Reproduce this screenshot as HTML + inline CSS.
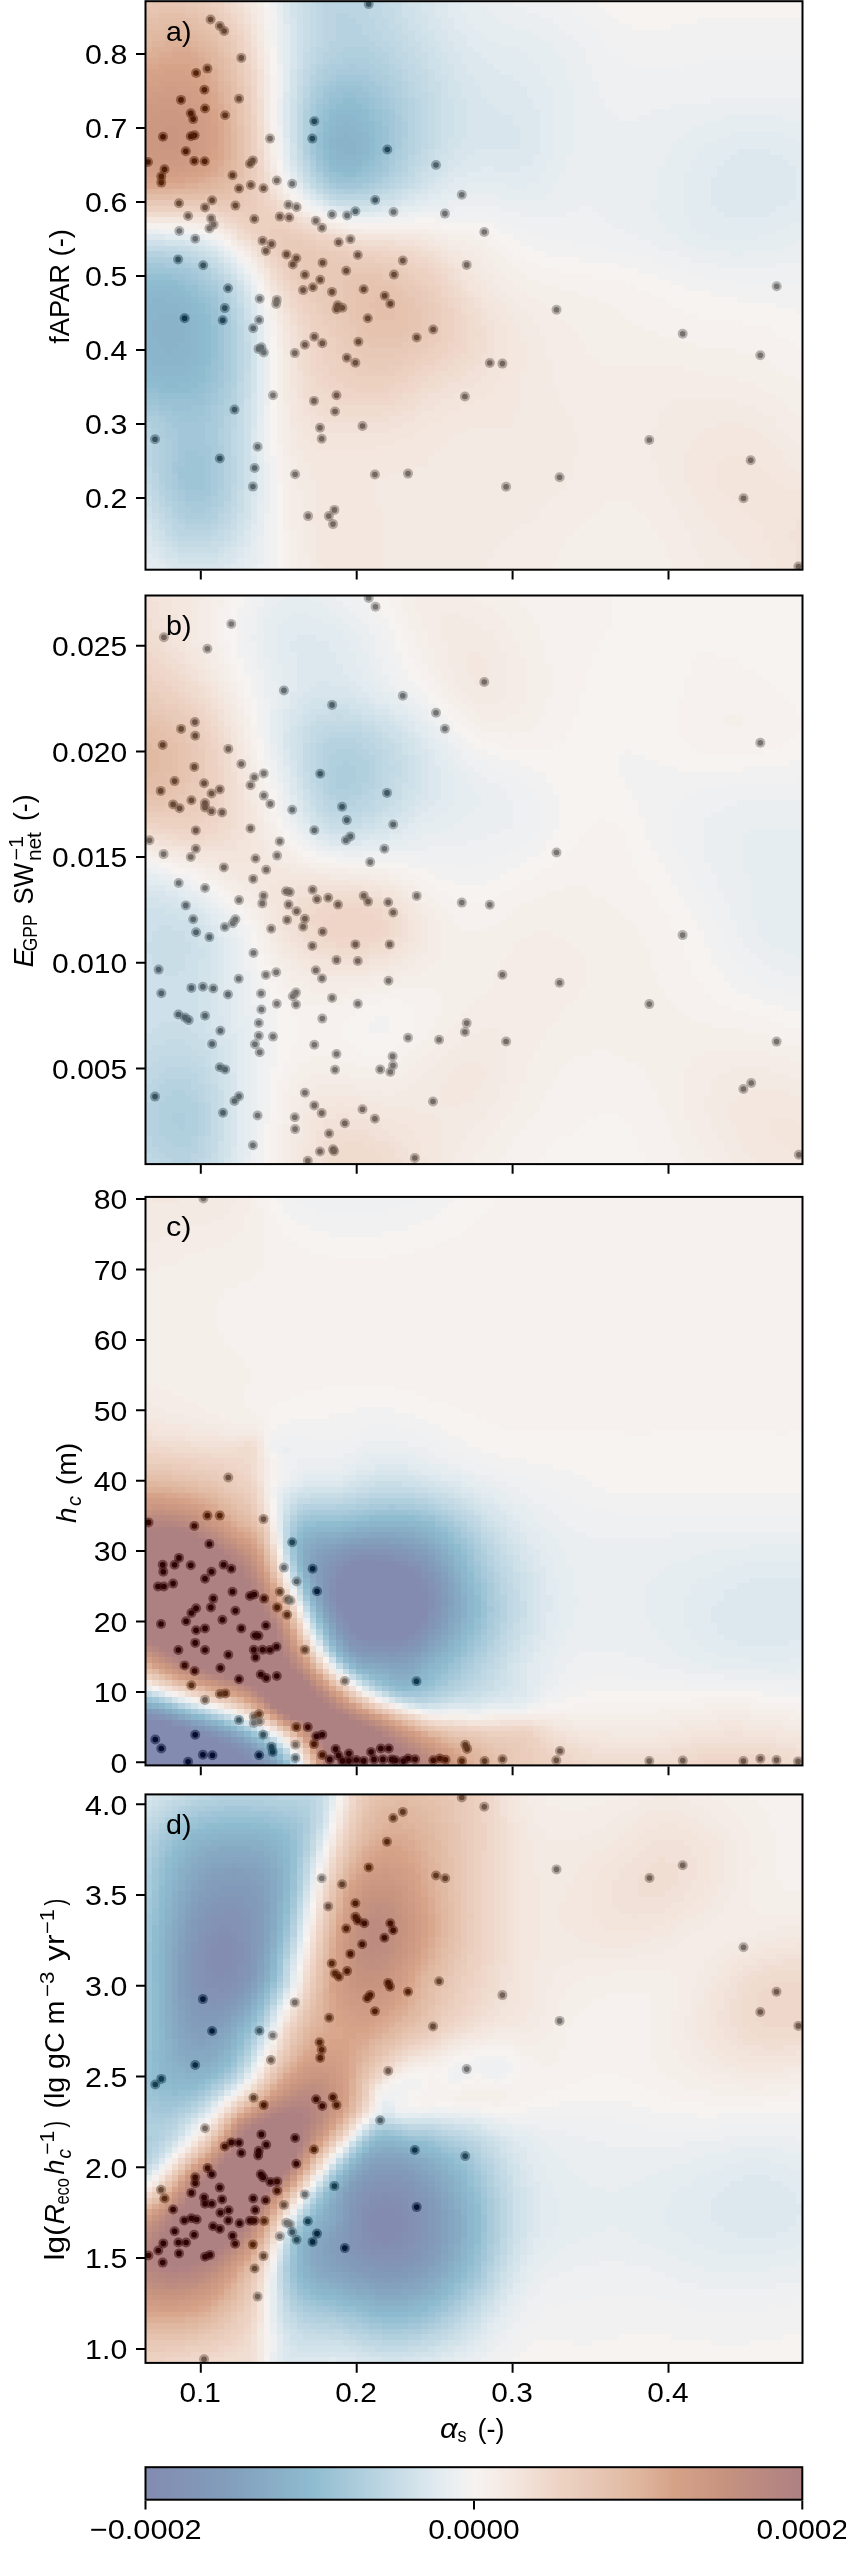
<!DOCTYPE html>
<html><head><meta charset="utf-8">
<style>
html,body{margin:0;padding:0;background:#fff;width:846px;height:2551px;overflow:hidden;position:relative}
canvas{position:absolute;display:block}
svg{position:absolute;left:0;top:0}
text{font-family:"Liberation Sans",sans-serif;font-size:28.3px;fill:#000}
.it{font-style:italic}
</style></head><body>
<canvas id="ca" width="659" height="571" style="left:145px;top:0px"></canvas>
<canvas id="cb" width="659" height="571" style="left:145px;top:595px"></canvas>
<canvas id="cc" width="659" height="571" style="left:145px;top:1196px"></canvas>
<canvas id="cd" width="659" height="571" style="left:145px;top:1794px"></canvas>
<canvas id="cbar" width="657" height="33" style="left:146px;top:2467px"></canvas>
<svg width="846" height="2551" viewBox="0 0 846 2551">
<defs><path id="xt" d="M200.8 0v8.75M356.7 0v8.75M512.6 0v8.75M668.5 0v8.75"/></defs>
<g fill="none" stroke="#000" stroke-width="2" stroke-linecap="butt">
<rect x="145.5" y="1.2" width="657" height="568.5"/>
<rect x="145.5" y="595.5" width="657" height="568.6"/>
<rect x="145.5" y="1196.9" width="657" height="568.5"/>
<rect x="145.5" y="1794.4" width="657" height="568.5"/>
<rect x="145.5" y="2467.2" width="656.8" height="32.5"/>

</g>
<g stroke="#000" stroke-width="2">
<use href="#xt" transform="translate(0,570.7)"/>
<use href="#xt" transform="translate(0,1165.1)"/>
<use href="#xt" transform="translate(0,1766.4)"/>
<use href="#xt" transform="translate(0,2363.9)"/>
<path d="M145.5 2500.7v8.75M474 2500.7v8.75M802.3 2500.7v8.75"/>
<!-- y ticks -->
<path d="M136 54h9M136 128h9M136 202h9M136 276h9M136 350h9M136 424h9M136 498h9"/>
<path d="M136 645.7h9M136 751.4h9M136 857.1h9M136 962.8h9M136 1068.5h9"/>
<path d="M136 1199.1h9M136 1269.5h9M136 1339.9h9M136 1410.3h9M136 1480.7h9M136 1551.1h9M136 1621.5h9M136 1691.9h9M136 1762.3h9"/>
<path d="M136 1804.3h9M136 1895h9M136 1985.8h9M136 2076.6h9M136 2167.3h9M136 2258.1h9M136 2348.9h9"/>
</g>
<g>
<text x="127.3" y="64.2" text-anchor="end" textLength="42.2" lengthAdjust="spacingAndGlyphs">0.8</text>
<text x="127.3" y="138.2" text-anchor="end" textLength="42.2" lengthAdjust="spacingAndGlyphs">0.7</text>
<text x="127.3" y="212.2" text-anchor="end" textLength="42.2" lengthAdjust="spacingAndGlyphs">0.6</text>
<text x="127.3" y="286.2" text-anchor="end" textLength="42.2" lengthAdjust="spacingAndGlyphs">0.5</text>
<text x="127.3" y="360.2" text-anchor="end" textLength="42.2" lengthAdjust="spacingAndGlyphs">0.4</text>
<text x="127.3" y="434.2" text-anchor="end" textLength="42.2" lengthAdjust="spacingAndGlyphs">0.3</text>
<text x="127.3" y="508.2" text-anchor="end" textLength="42.2" lengthAdjust="spacingAndGlyphs">0.2</text>
<text x="127.3" y="655.9" text-anchor="end" textLength="75.2" lengthAdjust="spacingAndGlyphs">0.025</text>
<text x="127.3" y="761.6" text-anchor="end" textLength="75.2" lengthAdjust="spacingAndGlyphs">0.020</text>
<text x="127.3" y="867.3" text-anchor="end" textLength="75.2" lengthAdjust="spacingAndGlyphs">0.015</text>
<text x="127.3" y="973.0" text-anchor="end" textLength="75.2" lengthAdjust="spacingAndGlyphs">0.010</text>
<text x="127.3" y="1078.7" text-anchor="end" textLength="75.2" lengthAdjust="spacingAndGlyphs">0.005</text>
<text x="127.3" y="1209.3" text-anchor="end" textLength="33.6" lengthAdjust="spacingAndGlyphs">80</text>
<text x="127.3" y="1279.7" text-anchor="end" textLength="33.6" lengthAdjust="spacingAndGlyphs">70</text>
<text x="127.3" y="1350.1" text-anchor="end" textLength="33.6" lengthAdjust="spacingAndGlyphs">60</text>
<text x="127.3" y="1420.5" text-anchor="end" textLength="33.6" lengthAdjust="spacingAndGlyphs">50</text>
<text x="127.3" y="1490.9" text-anchor="end" textLength="33.6" lengthAdjust="spacingAndGlyphs">40</text>
<text x="127.3" y="1561.3" text-anchor="end" textLength="33.6" lengthAdjust="spacingAndGlyphs">30</text>
<text x="127.3" y="1631.7" text-anchor="end" textLength="33.6" lengthAdjust="spacingAndGlyphs">20</text>
<text x="127.3" y="1702.1" text-anchor="end" textLength="33.6" lengthAdjust="spacingAndGlyphs">10</text>
<text x="127.3" y="1772.5" text-anchor="end" textLength="16.8" lengthAdjust="spacingAndGlyphs">0</text>
<text x="127.3" y="1814.5" text-anchor="end" textLength="42.2" lengthAdjust="spacingAndGlyphs">4.0</text>
<text x="127.3" y="1905.2" text-anchor="end" textLength="42.2" lengthAdjust="spacingAndGlyphs">3.5</text>
<text x="127.3" y="1996.0" text-anchor="end" textLength="42.2" lengthAdjust="spacingAndGlyphs">3.0</text>
<text x="127.3" y="2086.8" text-anchor="end" textLength="42.2" lengthAdjust="spacingAndGlyphs">2.5</text>
<text x="127.3" y="2177.5" text-anchor="end" textLength="42.2" lengthAdjust="spacingAndGlyphs">2.0</text>
<text x="127.3" y="2268.3" text-anchor="end" textLength="42.2" lengthAdjust="spacingAndGlyphs">1.5</text>
<text x="127.3" y="2359.1" text-anchor="end" textLength="42.2" lengthAdjust="spacingAndGlyphs">1.0</text>
<text x="200.20000000000002" y="2401.8" text-anchor="middle" textLength="41.5" lengthAdjust="spacingAndGlyphs">0.1</text>
<text x="356.09999999999997" y="2401.8" text-anchor="middle" textLength="41.5" lengthAdjust="spacingAndGlyphs">0.2</text>
<text x="512.0" y="2401.8" text-anchor="middle" textLength="41.5" lengthAdjust="spacingAndGlyphs">0.3</text>
<text x="667.9" y="2401.8" text-anchor="middle" textLength="41.5" lengthAdjust="spacingAndGlyphs">0.4</text>
<text x="145.7" y="2538.5" text-anchor="middle" textLength="112" lengthAdjust="spacingAndGlyphs">&#8722;0.0002</text>
<text x="474" y="2538.5" text-anchor="middle" textLength="91.5" lengthAdjust="spacingAndGlyphs">0.0000</text>
<text x="802.3" y="2538.5" text-anchor="middle" textLength="91.5" lengthAdjust="spacingAndGlyphs">0.0002</text>
<text x="166" y="40.6" textLength="25.5" lengthAdjust="spacingAndGlyphs">a)</text>
<text x="166" y="634.6" textLength="25.5" lengthAdjust="spacingAndGlyphs">b)</text>
<text x="166" y="1236.2" textLength="25.5" lengthAdjust="spacingAndGlyphs">c)</text>
<text x="166" y="1833.7" textLength="25.5" lengthAdjust="spacingAndGlyphs">d)</text>
<text x="440" y="2438.1" font-style="italic" textLength="17.5" lengthAdjust="spacingAndGlyphs">&#945;</text>
<text x="457.6" y="2442.2" style="font-size:19.8px" textLength="9" lengthAdjust="spacingAndGlyphs">s</text>
<text x="477.5" y="2438.1" textLength="27" lengthAdjust="spacingAndGlyphs">(-)</text>
<g transform="translate(69.1,343.8) rotate(-90)"><text x="0" y="0" textLength="114.6" lengthAdjust="spacingAndGlyphs">fAPAR (-)</text></g>
<g transform="translate(33,967) rotate(-90)"><text x="-0.5" y="0" font-style="italic" textLength="19" lengthAdjust="spacingAndGlyphs">E</text><text x="15.7" y="4.3" style="font-size:19.8px" textLength="37" lengthAdjust="spacingAndGlyphs">GPP</text><text x="62.5" y="0" textLength="41.5" lengthAdjust="spacingAndGlyphs">SW</text><text x="106.5" y="-10.3" style="font-size:19.8px" textLength="24.5" lengthAdjust="spacingAndGlyphs">&#8722;1</text><text x="105.9" y="7.8" style="font-size:19.8px" textLength="29" lengthAdjust="spacingAndGlyphs">net</text><text x="146" y="0" textLength="26.5" lengthAdjust="spacingAndGlyphs">(-)</text></g>
<g transform="translate(76.2,1522.5) rotate(-90)"><text x="-0.5" y="0" font-style="italic" textLength="15.5" lengthAdjust="spacingAndGlyphs">h</text><text x="16.4" y="4.8" style="font-size:19.8px" font-style="italic" textLength="10" lengthAdjust="spacingAndGlyphs">c</text><text x="37.2" y="0" textLength="42.6" lengthAdjust="spacingAndGlyphs">(m)</text></g>
<g transform="translate(64,2260.4) rotate(-90)"><text x="0" y="0" textLength="35" lengthAdjust="spacingAndGlyphs">lg(</text><text x="36" y="0" font-style="italic" textLength="20.5" lengthAdjust="spacingAndGlyphs">R</text><text x="55.8" y="4.7" style="font-size:19.8px" textLength="26.5" lengthAdjust="spacingAndGlyphs">eco</text><text x="85.8" y="0" font-style="italic" textLength="15" lengthAdjust="spacingAndGlyphs">h</text><text x="105.6" y="-10.2" style="font-size:19.8px" textLength="24" lengthAdjust="spacingAndGlyphs">&#8722;1</text><text x="102" y="7.2" style="font-size:19.8px" font-style="italic" textLength="9.5" lengthAdjust="spacingAndGlyphs">c</text><text x="133" y="0" textLength="6.5" lengthAdjust="spacingAndGlyphs">)</text><text x="151.8" y="0" textLength="108" lengthAdjust="spacingAndGlyphs">(lg gC m</text><text x="263.3" y="-9.7" style="font-size:19.8px" textLength="25.5" lengthAdjust="spacingAndGlyphs">&#8722;3</text><text x="299.5" y="0" textLength="26.5" lengthAdjust="spacingAndGlyphs">yr</text><text x="326.4" y="-10.2" style="font-size:19.8px" textLength="25" lengthAdjust="spacingAndGlyphs">&#8722;1</text><text x="354.8" y="0" textLength="6.8" lengthAdjust="spacingAndGlyphs">)</text></g>
</g>
</svg>
<script>
var CM=[[-1,131,139,177],[-0.75,130,158,187],[-0.5,142,187,207],[-0.25,195,218,229],[-0.1,228,236,240],[0,246,243,241],[0.1,244,233,226],[0.25,238,212,198],[0.4,229,195,175],[0.5,223,182,158],[0.6,214,163,137],[0.75,200,148,128],[0.875,186,137,129],[1,173,128,130]];
function cmap(t){if(t<=-1)return CM[0].slice(1);if(t>=1)return CM[CM.length-1].slice(1);
for(var i=1;i<CM.length;i++){if(t<=CM[i][0]){var a=CM[i-1],b=CM[i],f=(t-a[0])/(b[0]-a[0]);return [a[1]+(b[1]-a[1])*f,a[2]+(b[2]-a[2])*f,a[3]+(b[3]-a[3])*f];}}}
function dec(s){var n=s.length,a=new Float32Array(n);for(var i=0;i<n;i++){var c=s.charCodeAt(i)-35;if(c>57)c--;a[i]=c/45-1;}return a;}
var X0=145.5,X1=802.5;
function paint(id,s,top,bot,pts){var c=document.getElementById(id),ctx=c.getContext('2d');var F=dec(s);
 var sm=document.createElement('canvas');sm.width=100;sm.height=100;var sx=sm.getContext('2d');var im=sx.createImageData(100,100),d=im.data;
 for(var k=0;k<10000;k++){var col=cmap(F[k]);d[4*k]=Math.round(col[0]);d[4*k+1]=Math.round(col[1]);d[4*k+2]=Math.round(col[2]);d[4*k+3]=255;}
 sx.putImageData(im,0,0);
 var cl=parseFloat(c.style.left),ct=parseFloat(c.style.top);
 ctx.imageSmoothingEnabled=false;ctx.drawImage(sm,0,0,100,100,X0-cl,top-ct,X1-X0,bot-top);
 ctx.save();ctx.beginPath();ctx.rect(X0-cl,top-ct,X1-X0,bot-top);ctx.clip();
 for(var p=0;p<pts.length;p+=2){var x=pts[p],y=pts[p+1];var i=Math.floor((x-X0)/(X1-X0)*100),j=Math.floor((y-top)/(bot-top)*100);i=Math.max(0,Math.min(99,i));j=Math.max(0,Math.min(99,j));
  var col=cmap(F[j*100+i]);
  var ic=Math.max(0,Math.round(col[0]-127.5))+','+Math.max(0,Math.round(col[1]-127.5))+','+Math.max(0,Math.round(col[2]-127.5));
  ctx.fillStyle='rgba('+ic+',0.5)';ctx.beginPath();ctx.arc(x-cl,y-ct,5.0,0,6.2832);ctx.fill();
  ctx.fillStyle='rgb('+ic+')';ctx.beginPath();ctx.arc(x-cl,y-ct,2.8,0,6.2832);ctx.fill();}
 ctx.restore();
}
function paintBar(){var c=document.getElementById('cbar'),ctx=c.getContext('2d');for(var x=0;x<c.width;x++){var col=cmap(-1+2*(x+0.5)/c.width);ctx.fillStyle='rgb('+Math.round(col[0])+','+Math.round(col[1])+','+Math.round(col[2])+')';ctx.fillRect(x,0,1,c.height);}}
paint('ca',"abbbbbaa`_^]ZYWUTRPNLJHGFEDCCCCCCCDDEFFGHHIIJJKKLLLMMMMMNNNNNNNNOOOOOPPPPPPPPPPPPPPPPPPPPPPPPPPPPPPPbbccccbba`_^[YXVTSQNLJHGFEDCCCCCCCDDEEFGGHIIJJKKLLLLMMMMMMNNNNNNNOOOOOPPPPPPPPPPPPPPPPPPPPPPPPPPPPPPccddddccba`_]ZYWUSQOLJHGFEDCCBBCCCDDEEFGGHHIJJKKKLLLLMMMMMMMNNNNNNOOOOOPPPPPPPPPPPPPPPPPPPPPPPPPPPPPddeeeeedcba`^[YWUSQOMJIGFEDCCBBBCCCDDEFFGHHIIJJKKLLLLLMMMMMMMMNNNNNOOOOOPPPPPPPPPPPPOOOOOOOOOOOOOOOOeeeffffedcba_]ZXVTQOMKIGFEDCCBBBBCCDDEEFGGHIIJJKKKLLLLLLMMMMMMMNNNNNOOOOOOPPPPPPOOOOOOOOOOOOOOOOOOOOfffggggfedcb`^[YVTROMKIGFEDCCBBBBCCCDDEFFGHHIIJJKKKLLLLLLLLMMMMMNNNNNOOOOOOOOOOOOOOOOOOOOOOOOOOOOOOOfgghhhhgfedba_]YWTROMKIGFEDCCBBBBBCCDDEEFGGHIIJJJKKKLLLLLLLLMMMMMNNNNOOOOOOOOOOOOOOOOOOOOOOOOOOOOOOOghhiiiihgfecb`]ZWUROMKIGFEDCBBBBBBBCCDDEFFGHHIIJJKKKKKLLLLLLLLMMMMNNNNOOOOOOOOOOOOOOOOOOOOOOOOOOOOOOhiiijjjihgfdb`^ZXURPMKIGFDCCBBAAAABBCCDEEFGGHIIJJJKKKKKKKLLLLLMMMMMNNNNOOOOOOOOOOOOOOOOOOOOOOOOOOOOOiijjkkkjihgeca_[XUSPMKIGEDCBBAAAAAABBCDDEFFGHHIIJJJKKKKKKKLLLLLMMMMNNNNNOOOOOOOOOOOOOOOOOOOOOOOOOOOOjjkkkkkkjigfdb_[YVSPMKIGEDCBAA@@@@AABCCDEEFGGHIIJJJJKKKKKKKLLLLLMMMNNNNNNOOOOOOOOOOOONNNNNNNNNNNNNNNkklllllkjihfdb`]YVSPNKIGECBA@@@?@@@AABCDDEFGGHHIIJJJJKKKKKKKLLLLMMMMNNNNNNOOOOOOOONNNNNNNNNNNNNNNNNNlllmmmllkjigec`]ZWSPNKHFDCA@@?????@@ABBCDEEFGHHIIJJJJJKKKKKKLLLLMMMMNNNNNNNNNNNNNNNNNNNNNNNNNNNNNNNNlmmmmmmllkigeca^ZWTQNKHFDBA@?>>>>>?@@ABCDDEFGGHIIIJJJJJJKKKKKLLLMMMMNNNNNNNNNNNNNNNNNNNNNNNNNNNNNNNNmmnnnnnmlkjhfda^ZWTQNKHFDB@?>====>>?@AABCDEFFGHHIIJJJJJJJKKKKLLLLMMMMNNNNNNNNNNNNNNNNNNNNNNNNNNNNNNNnnnoonnnmljhgdb_[WTQNKHECA?>=<<<<=>>?@ABCDEFFGHHIIIJJJJJJJKKKKLLLMMMMNNNNNNNNNNNNNNNNNNNNNNNNNNNNNNNnoooooonmlkigeb_[WTQNJHEC@?=<<;;<<=>?@ABCDDEFGHHIIIJJJJJJJKKKKLLLMMMMNNNNNNNNNNNNNNNNNNNNNNNNNNNNNNNoopppponnlkigeb_[XTQMJGEB@>=;;::;;<=>?@ABCDEFGGHHIIIJJJJJJJKKKLLLMMMMMNNNNNNNNNNNNNNNNMMMMMMMMMMMMMMppppppponmkjhec`[XTQMJGDB?=<;::::;<=>?@ABCDEFGGHHIIIIJJJJJJKKKLLLMMMMMNNNNNNNNNNMMMMMMMMMMMMMMMMMMMMppqqqpponmljhfc`[XTQMJGDA?=;:9999:;<=>@ABCDEFGGHHIIIIIJJJJJJKKLLLMMMMMMNNNNNNMMMMMMMMMMMMMMMMMMMMMMMpqqqqqpponljhfc`]XTQMJGDA?<;98889:;<=>?ABCDEFGGHHIIIIIIIJJJJKKLLLMMMMMMMNNNMMMMMMMMMMMMMLLLLLLLLLMMMqqqqqqqponlkifc`]XUQMJGDA><:987889:;=>?@BCDEFGGHHIIIIIIIJJJJKKLLLMMMMMMMMMMMMMMMMMMMMLLLLLLLLLLLLLLLqqqrrqqponmkifda]YUQNJGDA><:877789:;<>?@BCDEFGGHHIIIIIIIIJJJKKLLLMMMMMMMMMMMMMMMMMMLLLLLLLLLLLLLLLLLqqrrrqqponmkigda]YURNJGDA>;9876778:;<>?@BCDEFGGHHIIIIIIIIJJJKKLLLMMMMMMMMMMMMMMMMMLLLLLLLKKKKKKKKLLLqqrrrqqponmkigda^YURNKGDA>;97666789;<>?ABCDEFGHHIIIIIIIIIJJJKKLLLMMMMMMMMMMMMMMMMLLLLLLKKKKKKKKKKKKLqqrrrqqponmkigda^YVROKHDA>;9766678:;=>?ABCDEFGHHIIIIIIIIIJJJKKLLLMMMMMMMMMMMMMMMLLLLLKKKKKKKKKKKKKKKqqqqqqpponlkigda^ZVROKHEA><:876678:;=>@ABCEFGGHIIIJJJJJJJJJJKKLLLMMMMMMMMMMMMMMMLLLLKKKKKKJJJJJKKKKKpqqqqpponmlkigda^ZVSOLHEB?<:877789:<=?@ACDEFGHHIIJJJJJJJJJJKKKLLMMMMMMMMMMMMMMMLLLLLKKKKKJJJJJJJJKKKpppppponnmkjhfda^ZWSPLIFC@=;98888:;<>?ABCDEFGHIIJJJJJJJJJJJKKLLLMMMMMMMMMMMMMMMLLLLKKKKKJJJJJJJJJJKKoooooonnmlkihfda_[WTPMJGDA><:999:;<=>@ABDEFGHHIJJJJKKJJJJKKKKLLLMMMMMMMMMMMMMMLLLLLKKKKJJJJJJJJJJJJKnnnnnmmllkjigfda_[XUQNKHEB@=<;::;<=>?ABCDFGGHIJJJKKKKKKKKKKKLLLMMMMMMMMMMMMMMMLLLLKKKKKJJJJJJJJJJJJKllllllkkjihgfeca_[XUROLIFDA?=<<<==>?ABCDEFGHIJJKKKKKKKKKKKKKLLLMMMMMMMMMMMMMMMLLLLKKKKJJJJJJJJJJJJJKkkjjjjiihhgfedca_]YVTQNKHECA?>>>>?@ABCDEFGHIJJKKKLLLLLLKKKLLLLMMMMMMMMMMMMMMMMLLLLKKKKJJJJJJJJJJJJJKhhhhggggffeedcba_]ZWUROMJHECBA@@AABCDEFGHHIJJKKLLLLLLLLLLLLLLLMMMMMMMMMMMMMMMMLLLLKKKKJJJJJJJJJJJJJKeeeedddddccccba`_][XVTQOLJHFDCCCCCDEFFGHIJJKKLLLMMMMMMLLLLLLLMMMMMMMMMMMMMMMMMLLLLKKKKJJJJJJJJJJJJJKaaaaaaaaaaaaaaa`_^[ZXUSQOMKIGFFFFFFGHHIJJKKLLLMMMMMMMMMMMMMMMMMMMMMMMMMMMMMMMLLLLLKKKKJJJJJJJJJJJJKK^^^^^^]^^^^___`__^][YWUSQONLKJIHHHIIJJKLLLMMMMMNNNNNNNMMMMMMMMMMMMNNMMMMMMMMMLLLLLKKKKKJJJJJJJJJKKKKYYYYYYYYYZZ[]^^__^^][YWVTRQONMLKKKKLLMMMNNNNNNNNNOOONNNNNMMMMMMMNNNNNMMMMMMMMMLLLLKKKKKKJJJJJJJKKKKKUUUUUUUVVWWYZ[]^^^^^][ZXWUTRQPONNNNNOOOOOPPPOOOOOOOOOONNNNNNNNNNNNNNNNMMMMMMMMLLLLLKKKKKKKKKKKKKKKKKQQQQRRRRSSUVXY[]^^^^^][ZYXWUTSRQQQQQQQQQQQQQQPPPPPPPPOOONNNNNNNNNNNNNNNMMMMMMMMLLLLKKKKKKKKKKKKKKKLLMMNNNNOOPPRSUWY[]^^___^][ZYXWVUTTSSSSSSSSSSRRQQQQQQQPPOOOONNNNNNNNNNNNNNNMMMMMMLLLLLKKKKKKKKKKKKLLLLJJJKKKLLMNOQSUXY[]^__`__^][[ZYXWVVVVVVUUUUTTSSRRRRQQQPPPOOOOONNNNNNNNNNNNNNMMMMMMLLLLLKKKKKKKLLLLLLLGGGHHHIIJKMNPSUWY[]^_```__^^][ZYYXXXXXWWWVVUTTSSSRRRQQPPPOOOOOOOONNNNNNNNNNNNMMMMMLLLLLLLLLLLLLLLLLMEEEEEFFGHIJLNQSUWY[^_`````__^^][[ZZZZYYYXXWVVUTTSSSRRQQPPPPOOOOOOOOOOONNNNNNNNMMMMMMLLLLLLLLLLLLLMMMBBBCCCDEFGHJLNQSVXZ]_``aaa```__^^]]][[[ZZYXXWVUUTTSSRRQQPPPPPOOOOOOOOOOOOONNNNNNNMMMMMMMMLLMMMMMMMMM@@@@AABCDEFHJLOQTVY[^_`aaaaa```____^^^]][ZZYXWVUUTTSSRRQQQPPPPPPPPOOOOOOOOOOONNNNNNMMMMMMMMMMMMMMMMM>>>???@ABCEFHJMORUXZ]_``aaaaaaa`````__^^][[ZYXWVUUTSSRRRQQQQPPPPPPPPPPPPOOOOOOONNNNNNNNMMMMMMMMMNNNN=====>>?@ACEGIKNQTVY[^_`aaaaaaaaaaaa```_^^][ZYXWVUTTSSRRRQQQQQQPPPPPPPPPPPPOOOOOOONNNNNNNNNNNNNNNNNN;;;;<<=>?@BCEGJLORUXZ]_``aaaaaabbbbbaaa`_^^][ZXWVVUTTSSRRRQQQQQQQQQQPPPPPPPPPPOOOOOOONNNNNNNNNNNNNNN:::::;<=>?@BDFHKNQTWY[^_``aaaabbbbcbbbaa`_^][ZYXWVUUTSSSRRRRQQQQQQQQQQQQQPPPPPPPOOOOOOOOOONNNNNNNNNN99999:;;=>?ACEGJMPSVXZ]^_``aaabbccccccbaa`_^][ZYWVVUTTSSSRRRRRRQQQQQQQQQQQQPPPPPPPOOOOOOOOOOOOOOOOOO888899:;<=>@BDFILORUWY[^__`aaabbcccccccbaa`_^[ZYXWVUUTTSSSRRRRRRRRQQQQQQQQQQQPPPPPPPPPOOOOOOOOOOOOOO8778889:;<=?ACFHKNQTVXZ]^_``aabbcccddccbba`_^][ZYXWVUUTTSSSSRRRRRRRRRQQQQQQQQQQPPPPPPPPPPPOOOOOOOOOO77777889:;=?@CEHJMPSUXZ[]^_`aabbccddddccbaa`_][ZYXWVVUUTTSSSSRRRRRRRRRRQQQQQQQQQPPPPPPPPPPPPPPPPOOOO77777789:;<>@BDGJMORUWY[]^_``abbcccdddccbba`_^][YXXWVUUTTTSSSSRRRRRRRRRRQQQQQQQQQQPPPPPPPPPPPPPPPPPO776667789:<>?BDGILORTVXZ[]^_`aabcccdddccbba`_^][ZYXWVVUUTTTSSSSRRRRRRRRRRQQQQQQQQQQQPPPPPPPPPPPPPPPP766667789:<=?ADFILNQTVXZ[]^__`abbcccccccbba`_^][ZYXWWVUUTTTSSSSSRRRRRRRRRRQQQQQQQQQQQQQQQQQPPPPPPPPP766666789:;=?ACFIKNQSVWYZ]^^_`aabcccccccbba`_^][ZYXXWVVUUTTTSSSSSRRRRRRRRRRRQQQQQQQQQQQQQQQQQQQPPPPP766666789:;=?ACFHKNQSUWYZ[]^_``abbcccccbbaa`_^][ZYYXWVVUUTTTSSSSSSRRRRRRRRRRRRQQQQQQQQQQQQQQQQQQPPPP776666789:;=?ACFHKNPSUWXZ[]^^_`aabbbbbbbaa`__^][ZYXXWVVUUTTTTSSSSSRRRRRRRRRRRRRRRQQQQQQQQQQQQQQQQQPP776667789:;=?ACEHKNPSUWXZ[]]^_``aabbbbbaa``_^][[ZYXXWVVUUUTTTSSSSSSRRRRRRRRRRRRRRRRRQQQQQQQQQQQQQQQP777677789:;=?ACEHKMPRUVXYZ[]^__`aaaaaaaa``_^]][ZZYXXWVVUUUTTTSSSSSSRRRRRRRRRRRRRRRRRRRRRRRQQQQQQQQQQ777777789:;=?ACEHKMPRTVXYZ[]^^_``aaaaa``__^]][ZZYYXWWVVUUUTTTSSSSSSSRRRRRRRRRRRRRRRRRRRRRRRRRQQQQQQQ877777889:<=?ACEHKMPRTVXYZ[]]^__```````__^]][ZZYYXXWWVVUUUTTTTSSSSSSSRRRRRRRRRRRRRRRRRRRRRRRRRRQQQQQ88888889:;<=?ACEHKMPRTVXYZ[[]^^___```__^^][[ZZYYXXWWVVVUUUTTTTSSSSSSSSSSSSSSSSSSSSRRRRRRRRRRRRRRQQQQ98888899:;<>?ACFHKMPRTVWYZZ[]]^^______^]][[ZYYYXXWWWVVUUUTTTTTSSSSSSSSSSSSSSSSSSSSSSSRRRRRRRRRRRRQQQ9999999::;<>?ACFHKMPRTVWXYZ[[]]^^^^^^^]][ZZYYXXXWWWVVVUUUTTTTTSSSSSSSSSSSSSSSSSSSSSSSSSSSSRRRRRRRRRQ:::99:::;<=>@ADFHKMPRTVWXYZZ[[]]]^^^]][[ZZYYXXWWWWVVVUUUUTTTTTSSSSSSSSSSSSSSSSSSSSSSSSSSSSSSSRRRRRRR;;:::::;;<=?@BDFHKMPRTUWXYYZZ[[[]]]]][[ZZYXXXWWWVVVVVUUUUTTTTTTSSSSSSSSSSSSSSSSSSSSSSSSSSSSSSSRRRRRR<<;;;;;;<=>?@BDFIKMPRTUWXXYYZZ[[[[[[[ZZYYXXWWWWVVVVVUUUUUTTTTTTSSSSSSSSSSSSSSSSSSSSSSSSSSSSSSSSSRRRR==<<<<<<<=>?ABDGIKMPRTUVWXYYYZZZZZZZZZYYXXWWWVVVVVUUUUUUUTTTTTTSSSSSSSSSSSSSSSSSTTTTTTTTTTSSSSSSSRRR>>==<<<==>?@ACEGIKNPRSUVWXXYYYYYYYYYYYXXXWWWVVVVUUUUUUUUUTTTTTTTSSSSSSSSSSSSSSSTTTTTTTTTTTTTTSSSSSRR??>>=====>?@ACEGIKNPRSUVWWXXXXYYYYYYXXXWWWVVVVUUUUUUUUUUTTTTTTTTSSSSSSSSSSSSSSTTTTTTTTTTTTTTTTSSSSSR@@?>>===>>?@BCEGILNPRSUVVWWXXXXXXXXXXWWWWVVVVUUUUUUUUUUUTTTTTTTTTSSSSSSSSSSSSSTTTTTTTTTTTTTTTTTTSSSSA@@?>>>>>??@BCEGILNPRSUUVWWWWWWWWWWWWWWVVVVUUUUUUUUUUUUUTTTTTTTTTSSSSSSSSSSSSSTTTTTTTTTUUUUTTTTTSSSSBA@??>>>>??ABDEGJLNPRSTUVVWWWWWWWWWWWVVVVVUUUUUUUTTTTTTTTTTTTTTTTSSSSSSSSSSSSTTTTTTTTUUUUUUUUTTTTSSSBA@??>>>>??ABDEGJLNPRSTUVVVVVVVVVVVVVVVVVUUUUUUTTTTTTTTTTTTTTTTTTTSSSSSSSSSSSTTTTTTTUUUUUUUUUUTTTTSSCBA@?>>>>??ABDEGJLNPRSTUUVVVVVVVVVVVVVUUUUUUUUTTTTTTTTTTTTTTTTTTTTSSSSSSSSSSSTTTTTTUUUUUUUUUUUUTTTTSCBA@?>>>>>?@BDEGJLNPQSTUUUVVVVVVVVVUUUUUUUUUUTTTTTTTTTTTTTTTTTTTTTSSSSSSSSSSSTTTTTTUUUUUUUUUUUUUTTTTCBA@?>==>>?@BDEGJLNPQSTTUUUUUUUUUUUUUUUUUUUUTTTTTTTTTTTTTTTTTTTTTTSSSSSSSSSSSTTTTTUUUUUUUUUUUUUUUTTTCBA@?>===>?@BCEGILNOQRSTUUUUUUUUUUUUUUUUUUUTTTTTTTTTTTTTTTTTTTTTTSSSSSSSSSSSSTTTTTUUUUUUVVVVUUUUUTTTCBA@>>===>?@BCEGIKMOQRSTTUUUUUUUUUUUUUUUUUUTTTTTTTTTTTTTTTTTTTTTTSSSSSSSSSSSSSTTTTUUUUUVVVVVVUUUUUTTDBA@>====>?@BCEGIKMOQRSTTUUUUUUUUUUUUUUUUTTTTTTTTTTTTTTTTTTTTTTTTSSSSSSSSSSSSSTTTTUUUUUVVVVVVVUUUUUTDCA@?====>?@BCEGIKMOQRSTTUUUUUUUUUUUUTTTTTTTTTTTTTTTTTTTTTTTTTTTTSSSSSSSSSSSSSTTTTUUUUUVVVVVVVVUUUUUDCA@?>===>?@BCEGIKMOQRSTTTUUUUUUUUUTTTTTTTTTTTTTTTTTTTTTTTTTTTTTSSSSSSSSSSSSSSTTTTUUUUUVVVVVVVVVUUUUECB@?>===>?@BDEGIKMOPRSTTTUUUUUUUUUTTTTTTTTTTTTTTTTTTTTTTTTTTTTTSSSSSSSSSSSSSSSTTTTUUUUVVVVVVVVVVUUUEDBA@?>>>>?ABDFHIKMOPRSSTTUUUUUUUUUTTTTTTTTTTTTTTTTTTTTTTTTTTTTSSSSSSSSSSSSSSSSTTTTUUUUUVVVVVVVVVVVVFDCA@?>>>?@ABDFHJKMOPRSSTTUUUUUUUUUTTTTTTTTTTTTTTTTTTTTTTTTTTTSSSSSSSSSSSSSSSSSSTTTTUUUUUVVVVVVVVVVVFECBA@????@ACDFHJLMOPRSSTTUUUUUUUUUTTTTTTTTTTTTTTTTTTTTTTTTTTSSSSSSSSSRRRRSSSSSSTTTTUUUUUUVVVVVVVVVVGEDCA@@??@ABCEFHJLMOPRSSTTUUUUUUUUUUTTTTTTTTTTTTTTTTTTTTTTTTSSSSSSSSSRRRRRRSSSSSSTTTTUUUUUUVVVVVVVVVGFECBA@@@AACDEGHJLNOPRSSTUUUUUUUUUUUTTTTTTTTTTTTTTTTTTTTTTTTSSSSSSSSRRRRRRRRSSSSSTTTTUUUUUUUVVVVVVVVHGEDCBAAAABCDFGIJLNOPRSSTUUUUUUUUUUUTTTTTTTTTTTTTTTTTTTTTTTSSSSSSSSRRRRRRRRRRSSSSSTTTTUUUUUUUVVVVVVWIGFECCBBBBCDEFHIKLNOPRSSTTUUUUUUUUUUTTTTTTTTTTTTTTTTTTTTTSSSSSSSSSRRRRRRRRRRRSSSSSTTTTTUUUUUUUVVVVVWIHGEDCCCCCDEFGHJKLNOPQRSTTUUUUUUUUUUTTTTTTTTTTTTTTTTTTTTSSSSSSSSSRRRRRRRRRRRRRSSSSSTTTTUUUUUUUVVVVWWJHGFEDDDDDEEFGIJKMNOPQRSTTUUUUUUUUUUTTTTTTTTTTTTTTTTTTTSSSSSSSSSRRRRRRRRRRRRRRSSSSSTTTTTUUUUUUVVVVWWJIHGFEEEEEFFGHIJLMNOPQRSTTUUUUUUUUUUTTTTTTTTTTTTTTTTTTSSSSSSSSSSRRRRRRRRRRRRRRRSSSSTTTTTTUUUUUUVVVVWJJIHGFFFFFFGHIJKLMNOPQRSTTUUUUUUUUUUTTTTTTTTTTTTTTTTTSSSSSSSSSSRRRRRRRRRRRRRRRRSSSSSTTTTTTUUUUUVVVVWKJIHHGGGGGGHIIJKLMNOPQRSSTUUUUUUUUUUTTTTTTTTTTTTTTTTTSSSSSSSSSSRRRRRRRRRRRRRRRRSSSSSTTTTTTTUUUUVVVVWKKJIIHHHHHHIIJKLLMNOPQRSSTUUUUUUUUUUTTTTTTTTTTTTTTTTSSSSSSSSSSSRRRRRRRRRRRRRRRRRSSSSSTTTTTTTUUUUVVVWLKKJIIIIIIIIJKKLMNNOPQRSSTTUUUUUUUUUTTTTTTTTTTTTTTTTSSSSSSSSSSRRRRRRRRRRRRRRRRRRSSSSSTTTTTTTUUUUVVVW",1.2,569.7,[210.6,19.5,219.8,26.0,224.2,31.0,368.7,4.1,241.3,57.9,207.4,68.6,196.1,73.0,204.4,89.8,181.0,99.9,239.0,98.7,205.0,108.5,190.8,113.2,193.2,119.1,225.1,115.2,163.0,136.8,190.8,136.2,194.6,135.3,270.0,138.6,314.3,121.2,312.3,138.6,387.3,149.5,185.8,151.3,194.3,161.0,204.7,161.3,148.0,162.0,164.5,169.3,161.3,176.4,161.3,182.6,252.9,160.4,249.9,163.7,232.5,175.2,239.0,188.5,250.8,185.0,263.5,188.2,276.8,180.5,292.2,183.8,375.2,200.0,179.0,203.3,212.1,200.3,205.0,207.4,235.4,205.6,188.1,216.0,211.2,218.4,213.6,224.6,209.4,228.4,179.3,231.0,254.3,219.0,288.3,204.8,296.6,207.1,279.8,216.6,289.2,217.5,315.8,220.7,322.0,227.8,332.0,214.5,347.1,215.4,355.4,211.3,393.5,212.0,195.2,238.7,262.6,240.8,271.5,244.1,265.9,250.9,178.1,259.4,203.2,265.3,286.5,254.4,296.3,258.3,292.8,264.5,322.6,262.7,338.6,242.3,350.4,239.3,357.8,255.0,346.2,270.7,304.9,274.8,320.2,279.8,394.0,274.6,228.0,288.3,303.1,290.1,312.9,287.2,332.0,291.9,363.7,289.2,384.7,295.7,390.3,303.7,224.8,308.1,259.7,298.7,276.8,299.9,276.2,304.0,184.6,318.2,222.7,320.3,259.1,320.0,253.2,328.2,337.7,305.2,342.4,307.8,336.5,309.3,367.8,318.2,314.3,336.8,304.9,344.8,322.3,343.3,358.4,341.8,258.5,348.9,263.8,352.5,261.4,347.2,294.8,353.1,346.8,357.8,355.4,362.8,273.0,395.3,314.0,400.9,336.5,395.3,335.0,411.5,234.5,409.6,155.0,439.3,219.8,458.5,257.6,446.7,254.6,468.0,252.9,486.6,320.0,427.8,321.7,438.7,362.5,426.0,295.1,474.2,374.9,474.5,308.1,516.1,328.8,516.1,334.4,509.9,333.0,524.1,436.0,165.0,461.8,194.8,444.9,213.6,484.3,232.0,402.8,260.6,466.7,264.9,416.7,337.5,433.2,329.5,556.5,309.8,489.8,363.0,502.4,363.6,464.9,396.5,408.0,473.6,506.1,486.8,559.6,477.3,776.7,286.2,682.7,333.8,760.3,355.3,649.3,440.0,750.7,460.2,743.5,498.3,798.4,566.6]);
paint('cb',"WVVVUUUTTSRRQPPONNMMMLLLLMMMMNNNOOOPPQQRRSSSSSSSSSRRRRRRRQQQQQQQQQQQQQQPPPPPPPPPPPPPPPPPPPPPPPPPPPPPWWVVUUUTSSRRQPPONNMMLLLLLLLMMMNNNOOPPQQRRSSSSSSSSSSRRRRRRQQQQQQQQQQQQQQPPPPPPPPPPPPPPPPPPPPPPPPPPPPPWWVVUUUTSSRQQPOONMMLLLLLLLLLMMMNNNOOPPQRRSSSSSSSSSSSSRRRRRQQQQQQQQQQQQQPPPPPPPPPPPPPPPPPPPPPPPPPPPPPWWVVVUUTSSRQQPOONMMLLLKKKLLLLMMMNNOOPPQQRRSSSTTTSSSSSSRRRRRQQQQQQQQQQQQPPPPPPPPPPPPPPPPPPPPPPPPPPPPPXWWVVUUTSSRQQPONNMLLLKKKKKKLLLMMMNNOOPQQRRSSSTTTTTSSSSSRRRRQQQQQQQQQQQQPPPPPPPPPPPPPPPPPPPPPPPPPPPPPXWWVVUUTSSRQPPONNMLLKKKKKKKKKLLMMMNNOPPQRRSSSTTTTTTSSSSRRRRRQQQQQQQQQQQPPPPPPPPPPPPPPPPPPPPPPPPPPPPPXXWWVUUTSSRQPPONNMLLKKKKKKKKKKLLMMNNOOPQQRRSSTTTTTTTTSSSRRRRQQQQQQQQQQPPPPPPPPPPPPPPPPPPPPPPPPPPPPPPXXWWVVUTSSRQPPONMMLLKKKJJJKKKKLLLMMNOOPQQRRSSTTTTTTTTSSSRRRRQQQQQQQQQQPPPPPPPPPPPPPPPPPPPPPPPPPPPPPPYXXWVVUTTSRQQPONNMLLKKJJJJJJKKKLLMMNNOPPQRRSSSTTTTTTTTSSSRRRRQQQQQQQQPPPPPPPPPPPPPPPPPPPPPPPPPPPPPPPYYXWWVUUTSRRQPONNMLLKKJJJJJJKKKLLMMNNOPPQQRRSSTTTTTTTTSSSRRRRQQQQQQQQPPPPPPPPPPPPPPPPPPPPPPPPPPPPPPPZYYXWWVUTSSRQPOONMLLKKKJJJJJJKKKLLMNNOOPQQRRSSTTTUUTTTTSSRRRRQQQQQQQPPPPPPPPPPPPPPPPQQQPPPPPPPPPPPPPZZYXXWVUUTSRQPPONMMLKKKJJJJJJKKKLLMMNOOPPQRRSSTTTUUUTTTSSSRRRQQQQQQQPPPPPPPPPPPPPPPQQQQQQQPPPPPPPPPP[ZZYXXWVUTSSRQPONMMLLKKJJJJJJJKKLLMMNNOPPQQRSSTTTUUUTTTSSSRRRRQQQQQQPPPPPPPPPPPPPPPQQQQQQQQPPPPPPPPP[[ZZYXWWVUTSRQPONNMLLKKJJJJJJJKKKLLMNNOOPPQRRSSTTUUUTTTSSSRRRRQQQQQPPPPPPPPPPPPPPPPQQQQQQQQQQPPPPPPP][[ZZYXWVUTSRQPPONMLLKKJJJJJJJJKKLLMMNNOPPQQRSSTTTUUTTTSSSRRRRQQQQQPPPPPPPPPPPPPPPQQQQQQQQQQQQPPPPPP^]][ZZYXWVUTSRQPONMMLKKJJJIIJJJJKKLLMNNOOPPQRRSTTTUTTTTSSSRRRRQQQQQPPPPPPPPPPPPPPPQQQQQQQQQQQQQPPPPP^^]][ZYYXWVTSRQPONMMLKKJJIIIIIIJJKKLMMNNOOPQQRSSTTTTTTTSSSRRRRQQQQQPPPPPPPPPPPPPPPQQQQQQQQQQQQQQPPPP__^^][ZYXWVUTSQPONMMLKJJIIIIIIIIJJKKLLMMNOOPQRRSSTTTTTTSSSRRRRQQQQPPPPPPPPPPPPPPPPQQQQQQQQQQQQQQQPPP``_^^][ZYXWVTSRQPONMLKJIIHHHHHHHIIJKKLLMMNOPPQRRSSTTTTSSSSRRRQQQQQPPPPPPPPPPPPPPPQQQQQQQQQQQQQQQQQPPa``__^][ZYWVUTRQPONMLKJIHHHGGGGHHHIJJKKLMMNOPPQRRSSSSSSSSRRRRQQQQQPPPPPPPPPPPPPPPQQQQQQQQQQQQQQQQQQPbaa``_^][YXWUTSQPONLKJIIHGGGFFFGGHHIIJKKLMMNOPQQRRSSSSSSSRRRRQQQQQPPPPPPPPPPPPPPPQQQQQQQQQQQQQQQQQQPcbba``_^[ZYWVTSRPONLKJIHGGFFFEFFFGGHHIJJKLMNNOPQQRRSSSSRRRRRQQQQQPPPPPPPPPPPPPPPPQQQQQQQRRRQQQQQQQQQcccba`_^][YXVUSRPONLKJIHGFEEEEEEEFFGGHIJJKLMNOOPQQRRRRRRRRRRQQQQQPPPPPPPPPPPPPPPPQQQQQQQRRRQQQQQQQQQddccba`_^[ZXWUTRQONLKJHGFEEDDDDDDEEFGGHIJKKLMNOPPQQRRRRRRRRQQQQQQPPPPPPPPPPPPPPPPQQQQQQQQQQQQQQQQQQQeddccba`^]ZYWVTRQONLKIHGFEDDCCCCCDDEFGGHIJKLMMNOPPQQQQQRQQQQQQQQPPPPPPPPPPPPPPPPPQQQQQQQQQQQQQQQQQQPeeddcba`_][YXVTSQPNLKIHGFEDCBBBBCCDDEFGHHIJKLMNNOPPQQQQQQQQQQQQQPPPPPPPPPPPPPPPPPPQQQQQQQQQQQQQQQQPPfeeddcba_^[ZXVUSQPNMKIHGEDCBBBBBBCCDEEFGHIJKLLMNOOPPPPQQQQQQQQPPPPPPPPPPPPPPPPPPPPPQQQQQQQQQQQQQQPPPffeedcba`^]ZXWUSRPNMKJHGEDCBBAAABBCCDEFGHIIJKLMMNOOOPPPPPPPPPPPPPPPPPPPPPOPPPPPPPPPPQQQQQQQQQQPPPPPPffeedcba`^]ZYWUTRPOMLJHGEDCBAAAAABBCDEFFGHIJKLLMNNOOOOPPPPPPPPPPPPPPPPPPOOOOPPPPPPPPPPPPPPPPPPPPPPPPffeedcba`^]ZYWVTRQONLJIGEDCBAA@AAABCDEEFGHIJKKLMMNNNOOOOOPPPPPPPPPPPPPPPOOOOOOPPPPPPPPPPPPPPPPPPPPOOffeedcba`^][YWVTSQPNLKIGEDCBA@@@AABCDDEFGHIJJKLLMMNNNOOOOOOPPPPPPPPPPPPPOOOOOOOOOPPPPPPPPPPOOOOOOOOOfeeddcba`^][YXVUSRPNMKIGFDCAA@@@AABCDEEFGHIJJKKLLMMNNNNOOOOOOPPPPPPPPPPPOOOOOOOOOOOOOOOOOOOOOOOOOOOOeeedccba`^][YXVUSRPOMKJHFDCBA@@@AABCDEFFGHIJJKKLLMMMNNNNNOOOOPPPPPPPPPPPPOOOOOOOOOOOOOOOOOOOOOOOOOONeeddcba`_^][YXWUTRQONLJHFECBA@@AABBCDEFGGHIJJKKLLLMMMMNNNNOOOOPPPPPPPPPPPOOOOOOOOOOOOOOOONNNNNNNNNNNddccbba`_^][YXWUTRQPNLJIGEDBAAAAABCDDEFGHHIJJKKLLLMMMMMNNNNOOOPPPPPPPPPPPPOOOOOOOOOONNNNNNNNNNNNNNNNcccbbaa`_^][YXWUTSQPNMKIGFDCBAABBCCDEFFGHIIJJKKLLLLMMMMNNNNOOOOPPPPPPPPPPPOOOOOOOONNNNNNNNNNNNNNNNNNbbbaaa`__^][YXWVTSRPOMKJHFECCBBBCCDEEFGHHIJJKKKLLLLMMMMMNNNNOOOPPPPPPPPPPPPOOOOOONNNNNNNNNMMMMMMMMMMaaa```__^][ZYXWVUSRPOMLJHGEDCCCCCDDEFGGHIJJKKKLLLLMMMMMMNNNNOOOPPPPPPPPPPPPOOOOONNNNNNNNMMMMMMMMMMMM_______^^][ZYXWVUSRQONLKIHFEDDDDDEEFGGHIIJKKKLLLLMMMMMMMNNNNOOOPPPPPPPPPPPPOOOOONNNNNNMMMMMMMMMMMMMM^^^^^^^^][[ZYXWVUTRQPNMKJHGFEEEEEFFGHHIIJKKKLLLLMMMMMMMMNNNNOOOPPPPPPQPPPPPPOOOONNNNNMMMMMMMMMMMMMMM[[]]]]]][[ZYYXWVUTSRPONLKIHGFFFFFGGHHIJJKKLLLLLMMMMMMMMMNNNNOOOPPPPPQQQQPPPPOOOONNNNNMMMMMMMMMMMMMMMYZZZ[[[[[ZZYXWWVUTSRQPNMLJIHGGGGHHHIIJJKKLLLLMMMMMMMMMNNNNNOOOPPPPPQQQQQQPPPOOOONNNNNMMMMMMMLLLLLLLLXXXYYZZZZYYXXWWVUTSSQPONMLJJIIHIIIJJJKKLLLMMMMMMMMMMNNNNNNNOOOPPPPQQQQQQQPPPOOOONNNNNMMMMMMLLLLLLLLLVVWWXXXYYXXXWWVVUUTSRQPONMLKJJJJJKKKLLLLMMMMMMMMMNNNNNNNNNOOOPPPPPQQQQQQQPPPPOOONNNNNMMMMMMLLLLLLLLLTUUVVVWWWWWWWWVVUUTSSRQPONMMLLLLLLLLMMMMMMMNNNNNNNNNNNNNNOOOOPPPPQQQQQQQQPPPPOOOONNNNMMMMMMLLLLLLLLLRSSTTUUVVVVVVVVVUUTTSSRQPPONNNMMMNNNNNNNNNNNNNNNNNNNNNNOOOOOPPPPQQQQQQQQQQPPPPOOONNNNMMMMMMLLLLLLLLLQQRRSSTTUUUVVVVVUUUTTSSRQQPPPOOOOOOOOOOOOONNNNNNNNNNNOOOOOPPPPPQQQQQQQQQQQPPPPOOOONNNMMMMMMLLLLLLLLLOOPPQRRSSTTUUUUUUUUUTTTSSRRRQQQQQQQPPPPPOOOOOOONNNOOOOOOOPPPPPQQQQQQQQQQQQPPPPPOOONNNNMMMMMLLLLLLLLLMNNOPPQQRSSTTUUUUUUUUUTTTTSSSSSRRRRRRQQQPPPOOOOOOOOOOOOPPPPPQQQQQQQQQQQQQQQPPPPOOOONNNMMMMMLLLLLLLLLLLMMNOOPQRRSTTUUUUUUUUUUUUUUTTTTTTSSSRRQQQPPOOOOOOOOOOPPPPPQQQQQQQQQQQQQQQQPPPPPOOONNNNMMMMMLLLLLLLLKKLLMMNOPPQRSSTTUUUUVVVVVVVVVVVUUUUTTSSRRQQPPPPOOOOOPPPPPQQQQQQQQQQQQQQQQQQQPPPPOOOONNNMMMMMLLLLLLLLJJJKKLMNNOPQRSSTTUUVVVVWWWWWWWWWWVVVUUTSSRQQPPPPPPPPPPPPQQQQQQQQRRRQQQQQQQQQQPPPPOOONNNMMMMMLLLLLLLLIIIJJKLLMNOPQRSSTTUVVVWWWXXXXXXXXXWWVVUTSSRQQQPPPPPPPPQQQQQQQRRRRRRRQQQQQQQQQPPPPOOOONNNMMMMLLLLLLLLHHIIIJKKLMNOPQRSSTUVVWWXXXYYYYYYYYXXWVVUTSRRQQQPPPPPPQQQQQQRRRRRRRRRRRQQQQQQQQPPPPOOONNNMMMMLLLLLLLLHHHHIIJJKLMNOPQRSTUUVWWXXYYZZZZZZZYYXWVVUTSRRQQQQQQQQQQQQRRRRRRRRRRRRRRQQQQQQQPPPPOOOONNNMMMLLLLLLLLGGGHHHIIJKLMNOPQRSTUVWXXYYZZZ[[[[ZZZYXWVUTSSRRQQQQQQQQQQRRRRRRRRRRRRRRRRQQQQQQQPPPPOOONNNMMMLLLLLLLLGGGGGHHIIJKLMNOQRSTUVWXXYZZZ[[[[[[[ZYYXWUUTSRRRQQQQQQQQRRRRRRRRRRRRRRRRRRQQQQQQQPPPOOONNNMMMLLLLLLLLGGGGGGGHIJKLMNOPQRTUVWXXYZZ[[[[[[[[[ZYXWVUTSSRRQQQQQQQRRRRRRRRRRRRRRRRRRRRQQQQQQPPPPOOONNNMMMLLLLLLLGGFFGGGGHIJKLMNOQRSTVWWXYYZ[[[[[[[[[ZYXWVUTSSRRRQQQQRRRRRRRRRRRRRRRRRRRRRRRQQQQQPPPPOOONNNMMMLLLLLLLGFFFFFGGHIJKLMNOPRSTUVWXYYZZ[[[[[[[ZZYXWVUTSSRRRRRRRRRRRRRRSSSRRRRRRRRRRRRRQQQQQQPPPPOOONNMMMLLLLLLLGFFFFFGGHHIJKLMOPQRTUVWWXYYZZZZZZZZZYXWWVUTSSRRRRRRRRRRRRSSSSSSSRRRRRRRRRRRRQQQQQPPPPOOONNNMMMLLLLLLFFFFFFFGHHIJKLMNPQRSTUVWWXYYYZZZZZYYXXWVUUTSSRRRRRRRRRRRSSSSSSSSSRRRRRRRRRRRQQQQQQPPPOOONNNMMMMLLLLLFFFFFFFGGHIJKLMNOQRSTUUVWWXXXYYYYYXXXWVVUTTSSRRRRRRRRRRRSSSSSSSSSSRRRRRRRRRRRQQQQQPPPPOOONNNMMMMMLLLGFFFFFGGGHIJKLMNOPQRSTUVVWWWXXXXXXWWWVVUTTSSSRRRRRRRRRRSSSSSSSSSSSSRRRRRRRRRRQQQQQPPPPOOONNNNMMMMMMLGFFFFFGGHHIJKLMNOPQRSSTUUVVVWWWWWWVVVUUTTSSSRRRRRRRRRRSSSSSSSSSSSSSRRRRRRRRRRQQQQQQPPPOOOONNNNMMMMMMGGFFFFGGHHIJKLMNOPPQRSTTUUUVVVVVVVUUUTTTSSSRRRRRRRRRRRSSSSSSSSSSSSSRRRRRRRRRRQQQQQQPPPPOOOONNNNMMMMMGGGFFGGGHHIJKLMMNOPQRRSTTTUUUUUUUUTTTTSSSSRRRRRRRRRRRSSSSSSSSSSSSSSRRRRRRRRRRRQQQQQPPPPPOOONNNNNNMMMGGGGGGGGHHIJKLLMNOPQQRSSSTTTTTTTTTSSSSSRRRRRRRRRRRRRRSSSSSSSSSSSSSSRRRRRRRRRRRQQQQQQPPPPOOOOONNNNNNNGGGGGGGGHHIJKKLMNOPPQRRRSSSSSSSSSSSRRRRRRRRRRRRRRRRRRSSSSSSSSSSSSSSRRRRRRRRRRRQQQQQQQPPPPOOOOONNNNNNGGGGGGGGHHIJKKLMNOOPQQRRRSSSSSSRRRRRRQQQQQQQRRRRRRRRSSSSSSSSSSSSSSRRRRRRRRRRRRRQQQQQQPPPPPOOOOOOONNNGGGGGGGGHHIJJKLMNNOPPQQRRRRRRRRRRQQQQQQQQQQQQRRRRRRSSSSSSSSSSSSSSSRRRRRRRRRRRRRQQQQQQQPPPPPPOOOOOOOOGGGGGGGGHHIJJKLMNNOPPQQQRRRRRRQQQQQQPPPQQQQQQRRRRRSSSSSSSSSSSSSSSRRRRRRRRRRRRRRRQQQQQQQPPPPPPPOOOOOOGGGGGGGGHHIJJKLMMNOOPPQQQQQQQQQQQPPPPPPPPQQQQRRRRSSSSSSSSSSSSSSSRRRRRRRRRRRRRRRRRQQQQQQQQPPPPPPPPOOOGGGGGGGGHHIJJKLMMNOOPPQQQQQQQQQQPPPPPPPPPQQQQRRRSSSSSSSSSSSSSSSRRRRRRRRRRRRRRRRRRRQQQQQQQQQQPPPPPPPPGGGGGGGGHHIIJKLLMNOOPPPQQQQQQQQPPPPOOPPPPQQQRRRRSSSSSSSSSSSSSSSRRRRRRRRRRRRRRRRRRRRQQQQQQQQQQQQPPPPPGGFFFFGGGHIIJKLLMNNOPPPQQQQQQQPPPPOOOPPPPQQQRRRSSSSSSSSSSSSSSSRRRRRRRRRRRRRRRRRRRRRRRRQQQQQQQQQQQPPPGFFFFFFGGHHIJKKLMNNOPPPQQQQQQQPPPPOOOPPPPQQRRRSSSSSTTTSSSSSSSRRRRRRRRRRRRRRRRRRRRRRRRRRRRRRQQQQQQQQQFFFFFFFFGGHIJJKLMNNOPPPQQQQQQQPPPPPPPPPPQQQRRSSSSTTTTTTSSSSSSRRRRRRRRRRRRRRRRRRRRRRRRRRRRRRRRRRQQQQQFFFEEEFFFGHIIJKLMNNOPPPQQQQQQQQPPPPPPPPQQQRRRSSSTTTTTTTSSSSSRRRRRRRRRRRRRRRRRRRRRRRRRRRRRRRRRRRRRQQQFEEEEEEFFGGHIJKLMNNOPPQQQQQQQQQQPPPPPPQQQRRRSSSTTTTTTTTSSSSSRRRRRRRRRRRRRRRRRRRRRRRRRRRRRRRRRRRRRRRREEEEEEEEFFGHIJKLMNNOPPQQQQQQQQQQQPPPPQQQRRRSSSTTTTTTTTTSSSSRRRRRRRRRQQQRRRRRRRRRRRRRRSSSSSSSSSSRRRRREEDDDDDEEFGHIJKLMNOOPPQQQRRRRQQQQQQQQQQRRRSSSTTTTTTTTTTSSSSRRRRRRQQQQQQQQRRRRRRRRRRSSSSSSSSSSSSSSSRREDDDDDDDEFGHIJKLMNOOPQQRRRRRRRRRQQQQQQRRRSSSTTTTUUUTTTTSSSRRRRRRQQQQQQQQQQQRRRRRRRRSSSSSSSSSSSSSSSSSDDDCCCCDDEFGHJKLMNOPPQQRRRRRRRRRRRRRRRRRSSSTTTTUUUUUTTTSSSRRRRRQQQQQQQQQQQQQRRRRRRSSSSSSSTTTTTTSSSSSDDCCCCCCDEFGHIKLMNOPPQRRRSSSSSSRRRRRRRRSSSTTTTUUUUUUTTTSSSRRRRRQQQQQQQQQQQQQRRRRRRSSSSSTTTTTTTTTTTSSDCCBBBBCDEFGHIKLMNOPQQRRSSSSSSSSSSSSSSSSSTTTTTUUUUUTTTTSSSRRRRQQQQQQQQQQQQQQQRRRRRSSSSTTTTTTTTTTTTTTCCBBBBBCCDEGHIKLMNOPQQRSSSTTTTTTSSSSSSSSTTTTTUUUUUUTTTSSSRRRRRQQQQQQQQQQQQQQQRRRRRSSSSTTTTTTTTTTTTTTCBBBAABBCDEFHIJLMNOPQRRSSTTTTTTTTTTTSSTTTTTTTUUUUUTTTTSSSRRRRQQQQQQQQQQQQQQQQQRRRRSSSSTTTTTUUUUUUUTTCBBAAAABCDEFHIJLMNOPQRSSTTUUUUUUUTTTTTTTTTTTTUUUUUTTTTSSSRRRRQQQQQQQQQQQQQQQQQRRRRSSSTTTTTUUUUUUUUUUBBAAAAAABCEFHIKLMNOPQRSSTUUUUVUUUUUUTTTTTTTTTUUUTTTTTSSSRRRRQQQQQQQQQQQQQQQQQQRRRRSSSTTTTUUUUUUUUUUUBBAAAAAABCEFHIKLMNOPQRSTTUUVVVVVVUUUUUUUUTTTTTTTTTTTSSSSRRRRQQQQQQQQQQQQQQQQQQQRRRSSSTTTTUUUUUUUUUUUBBAA@@AABCEFHIKLMNOPQRSTUUVVVWWVVVVUUUUUUUUUTTTTTTTTSSSRRRRQQQQQQQQQQPPPQQQQQQQRRRSSSSTTTUUUUUUUUUUUBBAA@@AABCEFHIKLMNOQQRSTUVVWWWWWWWVVVVUUUUUUUTTTTTTSSSRRRRQQQQQQQQQPPPPPPQQQQQQRRRRSSSTTTUUUUUUVVVVUBBAAA@AABCEFHIKLMNPQRSSTUVVWWWWWWWWWVVVVUUUUUTTTTTSSSSRRRRQQQQQQQQPPPPPPPPQQQQQQRRRSSSTTTTUUUUUVVVVVBBAAAAAABCEFHIKLMNPQRSTTUVWWXXXXXXWWWVVVVUUUUTTTTSSSSRRRRQQQQQQQQPPPPPPPPPQQQQQQRRRSSSSTTTUUUUUVVVVVCBBAAAABCDEFHIKLMOPQRSTTUVWWXXXXXXXWWWVVVUUUUTTTTSSSRRRRQQQQQQQPPPPPPPPPPPPQQQQQRRRRSSSTTTUUUUUUVVVVCBBBAAABCDEGHIKLMOPQRSTUUVWXXXYYYXXXXWWVVVUUUTTTSSSSRRRRQQQQQQPPPPPPPPPPPPPQQQQQQRRRSSSSTTTUUUUUUVVVCCBBBBBBCDEGHJKLNOPQRSTUVVWXXYYYYYYXXXWWVVUUUTTTSSSRRRRQQQQQQPPPPPPPPPPPPPPQQQQQQRRRRSSSTTTUUUUUUUVVDCCBBBBCCDFGHJKLNOPQRSTUVVWXYYYYYYYYXXWWVVUUUTTSSSRRRRRQQQQQQPPPPPPPPPPPPPPPQQQQQRRRRSSSSTTTUUUUUUUUDDCCBBBCDEFGIJKMNOPQRSTUVWWXYYYYYYYYXXXWWVVUUTTSSSRRRRQQQQQQPPPPPPPPPPPPPPPPQQQQQQRRRRSSSTTTTUUUUUUU",595.5,1164.1,[368.7,598.0,375.5,606.8,231.3,624.0,163.9,637.3,207.4,648.8,283.9,690.4,332.1,704.9,181.1,728.9,194.9,722.1,195.2,735.7,162.7,745.0,228.3,748.9,241.3,764.0,194.3,766.9,174.6,781.1,204.1,783.2,160.7,790.9,219.8,789.4,211.5,793.5,191.4,800.3,173.1,804.4,179.6,808.3,205.0,803.0,205.0,807.4,211.5,811.2,222.1,812.4,254.3,777.3,250.5,785.2,263.8,773.4,263.8,795.6,270.3,803.9,320.2,773.7,387.0,792.9,292.2,809.8,342.1,806.8,346.8,820.1,393.2,824.5,314.3,830.2,350.4,836.4,345.9,840.2,384.4,848.8,370.2,862.1,195.8,830.4,250.5,828.4,149.4,840.2,279.8,841.4,195.8,848.8,190.8,857.0,163.6,854.1,255.5,858.5,277.1,855.6,266.2,869.8,223.9,867.4,253.2,878.9,178.7,883.0,205.0,888.0,239.0,900.1,263.5,895.7,262.3,903.4,286.0,891.3,289.8,892.1,312.6,889.8,317.0,899.2,328.2,897.8,338.0,904.6,363.7,895.7,368.1,901.6,388.2,902.2,393.2,912.5,185.8,905.4,193.2,919.3,196.1,932.3,209.4,937.1,224.8,927.0,232.8,923.2,235.4,919.3,288.6,904.6,296.6,911.3,287.1,919.9,304.9,918.7,303.1,926.7,271.2,928.8,322.6,931.7,312.3,945.9,355.4,944.4,389.7,944.4,253.5,953.0,336.5,960.1,357.8,961.0,158.6,969.6,238.7,978.7,265.9,974.9,276.2,972.2,315.8,970.2,322.0,978.4,388.5,980.8,161.3,993.2,191.4,987.9,202.9,986.7,213.3,988.5,228.0,994.4,261.1,993.5,296.0,992.6,292.8,996.2,296.0,1004.4,276.8,1003.8,332.1,997.9,357.8,1003.8,261.4,1009.5,178.4,1014.5,184.9,1017.4,188.7,1020.1,205.0,1015.7,258.8,1023.0,322.3,1018.6,220.4,1030.7,212.1,1044.0,258.8,1035.7,254.9,1044.3,259.7,1052.2,273.0,1036.6,314.3,1044.8,336.5,1054.0,335.0,1069.7,392.6,1056.4,393.0,1065.5,380.2,1069.4,390.3,1072.0,219.8,1067.3,225.1,1069.4,155.0,1096.6,239.0,1096.3,234.5,1101.0,223.0,1112.8,257.6,1115.5,304.9,1092.7,314.3,1105.4,321.7,1113.1,294.8,1117.2,295.1,1129.1,362.5,1109.3,374.9,1118.7,344.8,1123.2,329.1,1133.5,252.9,1145.3,320.0,1151.5,333.0,1149.2,334.1,1151.2,307.8,1160.7,484.3,682.0,402.8,695.8,436.0,712.7,444.9,728.7,556.5,852.5,416.7,895.9,461.8,902.6,489.8,904.8,502.4,974.8,559.6,982.8,466.7,1023.1,464.9,1032.0,408.0,1037.8,439.1,1039.7,506.1,1041.5,433.0,1101.5,414.8,1158.0,760.3,742.8,682.6,935.1,649.3,1004.1,776.6,1041.6,751.2,1083.0,743.4,1089.0,798.9,1154.7]);
paint('cc',"TUUUUTTTTTTTTTSSRQQPOOONNNNNNNNNNNNNNNNNNOOOOOOPPPPPPQQQQQQQQQQQQQQQQQQQQQQQQQQQQQQQQQQQQQQQQQQQQQQQTTTTTTTTTTTTTSSSRQQPPOOONNNNNNNNNNNNNNNOOOOOOOPPPPPPPQQQQQQQQQQQQQQQQQQQQQQQQQQQQQQQQQQQQQQQQQQQQQQQTTTTTTTTTTTTTSSSRRQPPOOOOONNNNNNNNNNNOOOOOOOOPPPPPPPQQQQQQQQQQQQQQQQQQQQQQQQQQQQQQQQQQQQQQQQQQQQQQQQTTTTTTTTTTTTSSSRRRQQPPOOOOOOOOOOOOOOOOOOOOOOPPPPPPPQQQQQQQQQQQQQQQQQQQQQQQQQQQQQQQQQQQQQQQQQQQQQQQQQTTTTTTTTTTSSSSSRRRQQPPPOOOOOOOOOOOOOOOOOOOPPPPPPPPQQQQQQQQQQQQQQQQQQQQQQQQQQQQQQQQQQQQQQQQQQQQQQQQQQTTTTTTTSSSSSSSSRRRQQQPPPPOOOOOOOOOOOOOOOPPPPPPPPPQQQQQQQQQQQQQQQQQQQQQQQQQQQQQQQQQQQQQQQQQQQQQQQQQQQTTTTSSSSSSSSSSRRRRQQQPPPPPPPOOOOOOOOPPPPPPPPPPPPQQQQQQQQQQQQQQQQQQQQQQQQQQQQQQQQQQQQQQQQQQQQQQQQQQQQTTSSSSSSSSSSSRRRRRQQQQPPPPPPPPPPPPPPPPPPPPPPPPQQQQQQQQQQQQQQQQQQQQQQQQQQQQQQQQQQQQQQQQQQQQQQQQQQQQQQSSSSSSSSSSSSRRRRRRQQQQQPPPPPPPPPPPPPPPPPPPPPQQQQQQQQQQQQQQQQQQQQQQQQQQQQQQQQQQQQQQQQQQQQQQQQQQQQQQQQSSSSSSSSSRRRRRRRRRQQQQQQQPPPPPPPPPPPPPPPPQQQQQQQQQQQQQQQQQQQQQQQQQQQQQQQQQQQQQQQQQQQQQQQQQQQQQQQQQQQSSSSSSRRRRRRRRRRRRQQQQQQQQQQPPPPPPPPPQQQQQQQQQQQQQQQQQQQQQQQQQQQQQQQQQQQQQQQQQQQQQQQQQQQQQQQQQQQQQQQSSSSSRRRRRRRRRRRRRQQQQQQQQQQQQQQQQQQQQQQQQQQQQQQQQQQQQQQQQQQQQQQQQQQQQQQQQQQQQQQQQQQQQQQQQQQQQQQQQQQSSRRRRRRRRRRRRRRRRQQQQQQQQQQQQQQQQQQQQQQQQQQQQQQQQQQQQQQQQQQQQQQQQQQQQQQQQQQQQQQQQQQQQQQQQQQQQQQQQQQRRRRRRRRRRRRRRRRRQQQQQQQQQQQQQQQQQQQQQQQQQQQQQQQQQQQQQQQQQQQQQQQQQQQQQQQQQQQQQQQQQQQQQQQQQQQQQQQQQQQRRRRRRRRRRRRRRRRQQQQQQQQQQQQQQQQQQQQQQQQQQQQQQQQQQQQQQQQQQQQQQQQQQQQQQQQQQQQQQQQQQQQQQQQQQQQQQQQQQQQRRRRRRRRRRRRRRQQQQQQQQQQQQQQQQQQQQQQQQQQQQQQQQQQQQQQQQQQQQQQQQQQQQQQQQQQQQQQQQQQQQQQQQQQQQQQQQQQQQQQRRRRRRRRRRRRQQQQQQQQQQQQQQQQQQQQQQQQQQQQQQQQQQQQQQQQQQQQQQQQQQQQQQQQQQQQQQQQQQQQQQQQQQQQQQQQQQQQQQQQRRRRRRRRRRRRQQQQQQQQQQQQQQQQQQQQQQQQQQQQQQQQQQQQQQQQQQQQQQQQQQQQQQQQQQQQQQQQQQQQQQQQQQQQQQQQQQQQQQQQRRRRRRRRRRRQQQQQQQQQQQQQQQQQQQQQQQQQQQQQQQQQQQQQQQQQQQQQQQQQQQQQQQQQQQQQQQQQQQQQQQQQQQQQQQQQQQQQQQQQRRRRRRRRRRRQQQQQQQQQQQQQQQQQQQQQQQQQQQQQQQQQQQQQQQQQQQQQQQQQQQQQQQQQQQQQQQQQQQQQQQQQQQQQQQQQQQQQQQQQRRRRRRRRRRRQQQQQQQQQQQQQQQQQQQQQQQQQQQQQQQQQQQQQQQQQQQQQQQQQQQQQQQQQQQQQQQQQQQQQQQQQQQQQQQQQQQQQQQQQRRRRRRRRRRRQQQQQQQQQQQQQQQQQQQQQQQQQQQQQQQQQQQQQQQQQQQQQQQQQQQQQQQQQQQQQQQQQQQQQQQQQQQQQQQQQQQQQQQQQRRRRRRRRRRRQQQQQQQQQQQQQQQQQQQQQQQQQQQQQQQQQQQQQQQQQQQQQQQQQQQQQQQQQQQQQQQQQQQQQQQQQQQQQQQQQQQQQQQQQRRRRRRRRRRRQQQQQQQQQQQQQQQQQQQQQQQQQQQQQQQQQQQQQQQQQQQQQQQQQQQQQQQQQQQQQQQQQQQQQQQQQQQQQQQQQQQQQQQQQRRRRRRRRRRRRQQQQQQQQQQQQQQQQQQQQQQQQQQQQQQQQQQQQQQQQQQQQQQQQQQQQQQQQQQQQQQQQQQQQQQQQQQQQQQQQQQQQQQQQRRRRRRRRRRRRQQQQQQQQQQQQQQQQQQQQQQQQQQQQQQQQQQQQQQQQQQQQQQQQQQQQQQQQQQQQQQQQQQQQQQQQQQQQQQQQQQQQQQQQRRRRRRRRRRRRRQQQQQQQQQQQQQQQQQQQQQQQQQQQQQQQQQQQQQQQQQQQQQQQQQQQQQQQQQQQQQQQQQQQQQQQQQQQQQQQQQQQQQQQRRRRRRRRRRRRRRQQQQQQQQQQQQQQQQQQQQQQQQQQQQQQQQQQQQQQQQQQQQQQQQQQQQQQQQQQQQQQQQQQQQQQQQQQQQQQQQQQQQQQRRRRRRRRRRRRRRRQQQQQQQQQQQQQQQQQQQQQQQQQQQQQQQQQQQQQQQQQQQQQQQQQQQQQQQQQQQQQQQQQQQQQQQQQQQQQQQQQQQQQRRRRRRRRRRRRRRRQQQQQQQQQQQQQQQQQQQQQQQQQQQQQQQQQQQQQQQQQQQQQQQQQQQQQQQQQQQQQQQQQQQQQQQQQQQQQQQQQQQQQRRRRRRRRRRRRRRRRQQQQQQQQQQQQQQQQQQQQQQQQQQQQQQQQQQQQQQQQQQQQQQQQQQQQQQQQQQQQQQQQQQQQQQQQQQQQQQQQQQQQRRRRRRRRRRRRRRRRQQQQQQQQQQQQQQQQQQQQQQQQQQQQQQQQQQQQQQQQQQQQQQQQQQQQQQQQQQQQQQQQQQQQQQQQQQQQQQQQQQQQRRRRRRRRRRRRRRRRQQQQQQQQQQQQQQQQQQQQQQQQQQQQQQQQQQQQQQQQQQQQQQQQQQQQQQQQQQQQQQQQQQQQQQQQQQQQQQQQQQQQSSRRRRRRRRRRRRRQQQQQQQQQQQQPPPPPPPPPPPQQQQQQQQQQQQQQQQQQQQQQQQQQQQQQQQQQQQQQQQQQQQQQQQQQQQQQQQQQQQQQSSSSRRRRRRRRRRRQQQQQQQQQPPPPPPPPPPPPPPPPPQQQQQQQQQQQQQQQQQQQQQQQQQQQQQQQQQQQQQQQQQQQQQQQQQQQQQQQQQQQSSSSSSRRRRRRRRRQQQQQQQPPPPPPPPPPPPPPPPPPPPPQQQQQQQQQQQQQQQQQQQQQQQQQQQQQQQQQQQQQQQQQQQQQQQQQQQQQQQQQTSSSSSSSRRRRRRRQQQQQPPPPPPPPPPPPPPPPPPPPPPPPPPQQQQQQQQQQQQQQQQQQQQQQQQQQQQQQQQQQQQQQQQQQQQQQQQQQQQQQTTTSSSSSSRRRRRRRQQQPPPPPPPPPPPPPOOOOOOPPPPPPPPPPQQQQQQQQQQQQQQQQQQQQQQQQQQQQQQQQQQQQQQQQQQQQQQQQQQQQTTTTTTSSSSSRRRRRRQQPPPPPPPPPOOOOOOOOOOOOOPPPPPPPPPQQQQQQQQQQQQQQQQQQQQQQQQQQQQQQQQQQQQQQQQQQQQQQQQQQUUUTTTTTTSSSSRRRRRQPPPOOOOOOOOOOOOOOOOOOOOOPPPPPPPPPQQQQQQQQQQQQQQQQQQQQQQQQQQQQQQQQQQQQQQQQQQQQQQQQVVUUUUUTTTTTSSSSSRQPOOOOOOOOOOOOOONNNNOOOOOOOPPPPPPPPPQQQQQQQQQQQQQQQQQQQQQQQQQQQQQQQQQQQQQQQQQQQQQQWVVVVVUUUUUTTTTTTSQOOOOOOOOOOOOONNNNNNNNNOOOOOPPPPPPPPPPPPPPPPPPPPPPPPPPPQQQQPPPPPPPPPPPPPPPPPPPQQPPXWWWWWVVVVVVUUVVVTQONNNNNOOOOONNNNNNNNNNNNNOOOOOPPPPPPPPPPPPPPPPPPPPPPPPPPPPPPPPPPPPPPPPPPPPPPPPPPPPYYXXXXXWWWWWWWWXWUQNNNNNNNNNNNNNNMMMMMMMNNNNNOOOOPPPPPPPPPPPPPPPPPPPPPPPPPPPPPPPPPPPPPPPPPPPPPPPPPPPZZZZYYYYXXXXXXYYXURONMNNNNNNNNNNMMMMMMMMMMMNNNOOOOOPPPPPPPPPPPPPPPPPPPPPPPPPPPPPPPPPPPPPPPPPPPPPPPPP]][[[[ZZZZYYYYYYXURPNNNNNNNNNNMMMLLLLLLLLMMMNNNNOOOOOOPPPPPPPPPPPPPPPPPPPPPPPPPPPPPPPPPPPPPPPPPPPPPP^^^^^]]][[[[ZZZYXVSQONNMMMMMMMMMLLKKKKKKLLLMMMNNNNOOOOOOOOPPPPPPPPPPPPPPPPPPPPPPPPPPPPPPPPPPPPPPPPPP````___^^]]][[ZZXVSQONNMMMMMMMLLKKKJJJJJKKKLLLMMNNNNOOOOOOOOOOPPPPPPPPPPPPPPPPPPPPPPPPPPPPPPPPPPPPPPbbbbaa```__^]][ZXVSQONMMLLLLLLLKJJJIIIIIJJKKKLLLMMNNNNNOOOOOOOOOOPPPPPPPPPPPPPPPPPPPPPPPPPPPPPPPPPPPddddccbbaa`__^][YVSQONMLKKKKKKJJIIHHHHHHHIIJJKKKLLMMMNNNNNOOOOOOOOOPPPPPPPPPPPPPPPPPPPPPPPPPPPPPPPPPggfffeedccba`_^]ZWSPNMLKJJJJJJIHHGGFFFFGGGHHIIJJKLLLMMMNNNNNOOOOOOOOPPPPPPPPPPPPPPPPPPPPPPPPPPPPPPPPiiiihhgfeedca`_^[XSOMKJIHHHHHHGGFFEEEEEEEFFGGHHIJJKLLLMMMNNNNNOOOOOOOOPPPPPPPPPPPPPPPPPPPPPPPPPPPPPPlllkkjjihgfdcba_]XTOLJHGGFFFFFEEDDCCCCCCCDDEFFGHIIJKKLLMMMNNNNNOOOOOOOOOOOOOOOOOOOOOOOOOOOOOOOOOOOOOooonnmlkjihfecb`^YTPLIGEEDDDDDCCBBAAAAAAABBCDEEFGHIJJKLLMMMNNNNNNOOOOOOOOOOOOOOOOOOOOOOOOOOOOOOOOOOOqrrqqponmkjhgecb_ZUPKHECBBBBBAAA@@???>???@@ABCDEFGHIIJKKLLMMMNNNNNNOOOOOOOOOOOOOOOOOOOOOOOOOOOOOOOOOtuuttsrqonljhgec`[VPKGDA@??????>>==<<<<<==>?@ABCDEGHIIJKLLLMMMNNNNNNNNNOOOOOOOOOOOOOOOOOOOOOOOOOOOOOwxxxwvutrpoljhfeb^XQKFB?>=====<<;;:::::::;<<>?@BCDEGHIIJKLLMMMMNNNNNNNNNNNNNNNNNNNNNNNNNNNNNNNNNNNNNz{{{zyxwusqomjhfd`ZRKE@=;;::::9988777777889:<=>@ACDFGHIJJKLLMMMMNNNNNNNNNNNNNNNNNNNNNNNNNNNNNNNNNNNN}}~~~}|zxvtromjifc]SKD?;98888776554444455678:;=>@BCEFGHIJKKLLMMMMNNNNNNNNNNNNNNNNNNNNNNNNNNNNNNNNNNN~~~~~~~}{ywuromkie_ULD>:7655543322111122345689;=?@BDEFGIIJKKLLMMMMMNNNNNNNNNNNNNMMMMMMMMMMMMMMMMMMMM~~~~~~~~~|zxuspnkg`VMD=85432210//....//0013468:<=?ACDFGHIJKKLLLMMMMMMMMMMMMMMMMMMMMMMMMMMMMMMMMMMMMM~~~~~~~~~~}{xvsqmibXND<74210/.-,+++++,,-./02468:<>@BCEFGHIJKKLLMMMMMMMMMMMMMMMMMMMMMMMMMMMMMLLLLLLLL~~~~~~~~~~~~{yvspkdZPE=731/.-+*)((((()**,-.02479;=?ACDFGHIJJKLLLMMMMMMMMMMMMMMMMMMMMMMLLLLLLLLLLLLLL~~~~~~~~~~~~~{yvrmf^RG>730.,+)'&%$$%%&'()+,.1358:<?@BDEFGIIJKKLLMMMMMMMMMMMMMMMMMMMLLLLLLLLLLLLLLLLL~~~~~~~~~~~~~~{xtoh`TI@83/-+)'%#######$%'(*-/2479<>@BCEFGHIJKKLLMMMMMMMMMMMMMMMMLLLLLLLLLLLKKKKKKKKK~~~~~~~~~~~~~~}zvqjbWLB:40-*(%##########$&)+.0368;=?ACDEGHIJJKLLLMMMMMMMMMMMMMMLLLLLLLLLKKKKKKKKKKKK~~~~~~~~~~~~~~~{xsmeZOD<50-*'$###########$'),/258:=?@BDEFGHIJKLLLMMMMMMMMMMMMMLLLLLLLLKKKKKKKKKKKKKK~~~~~~~~~~~~~~~}zuoh_SH>71-*&#############%(+.147:<>@BCEFGHIJKKLLMMMMMMMMMMMMLLLLLLLKKKKKKKKJJJJJJJJ~~~~~~~~~~~~~~~~{wrkbVLB93.)&#############$'*-0369;=?ACDFGHIJKKLLMMMMMMMMMMMLLLLLLLKKKKKKKJJJJJJJJJJ~~~~~~~~~~~~~~~~}ytmeZOE;4.*%##############&)-0368;=?ACDEGHIJKKLLMMMMMMMMMMMLLLLLLLKKKKKJJJJJJJJJJJJ~~~~~~~~~~~~~~~~~{vph_SH>60*&##############&),/258:=?ABDEGHIJJKLLLMMMMMMMMMMLLLLLLKKKKKKJJJJJJJJJJJJ~~~~~~~~~~~~~~~~~}yslcWLB92,'##############%),/258:<?@BDEFHIJJKLLLMMMMMMMMMMLLLLLLKKKKKJJJJJJJJJJJJJ~~~~~~~~~~~~~~~~~~{vog[PE<4.)$#############&)-0258:<>@BDEFHIJJKLLMMMMMMMMMMMLLLLLLKKKKJJJJJJJJJJJJJJ~~~~~~~~~~~~~~~~~~}xrj`TI?70+&#############'*-0358:<?@BDEFHIJKKLLMMMMMMMMMMMLLLLLLKKKKJJJJJJJJJJJJJJ~~~~~~~~~~~~~~~~~~~{umdXMB:3-($###########$(+.1368;=?ABDEGHIJKKLLMMMMMMMMMMMMLLLLLKKKKJJJJJJJJJJJJJJ~~~~~~~~~~~~~~~~~~~}wpg]QF=60*&###########&),/2479;=?ACDFGHIJKKLLMMMMMMMMMMMMLLLLLKKKKKJJJJJJJJJJJJJ~~~~~~~~~~~~~~~~~~~~zskaUJA92,($#########%(+.0358:<>@ACEFGHIJKLLMMMMMMMMMMMMMMLLLLLKKKKJJJJJJJJJJJJJ~~~~~~~~~~~~~~~~~~~~{umdYOE<5/*'$#######%'*-/2469;=?@BDEFHIJJKLLMMMMMMMMMMMMMMLLLLLKKKKKJJJJJJJJJJJJ|~~~~~~~~~~~~~~~~~~~}wph_SI?82-)'&%%%%%&'),/1368:<>?ACDFGHIJKKLLMMMMMMMMMMMMMMMLLLLLKKKKKKJJJJJJJJKKxz}~~~~~~~~~~~~~~~~~~yslcXND<50,*)((''()*,.13579;=?@BCEFGIIJKLLMMMMMMMMMMMMMMMMMLLLLLKKKKKKKKKKKKKKKsvy|~~~~~~~~~~~~~~~~~{voh_TJA940-,+++*++-.13579:<>@ACDEGHIJKKLLMMMNNNNNNNMMMMMMMMLLLLLLKKKKKKKKKKKKKnrux{}~~~~~~~~~~~~~~~}xsldYPG>841//..--./13578:<>?ABCEFGHIJKLLMMMNNNNNNNNNNNMMMMMMMLLLLLLLLLKKKKKKLLimpsvy{~~~~~~~~~~~~~~~{vpi`VME>95332100013578:<=?@BCDEFHIJKKLLMMNNNNNNNNNNNNNNMMMMMMMMLLLLLLLLLLLLLLdgknqtvy{}~~~~~~~~~~~~~zung^TLE?:86543223579:;=>@ABDEFGHIJKKLLMMNNNNNNNNNNNNNNNNNNMMMMMMMMMMMMMLLLLM^adhknpsuxz{}~~~~~~~~~~~ysme]TMFA=:87544568:;=>?ABCDEFGHIJKKLMMNNNNNOOOOOONNNNNNNNNNNNNNMMMMMMMMMMMMUY]`dgiloqsuwy{~~~~~~~~~}xrld]UNHC?<:87678:;=>@ABCDEFGGHIJKKLMMNNNOOOOOOOOOOOOOOOONNNNNNNNNNNNNNNNNNMPTWZ^adgjloqsvy|~~~~~~~~|wqke^WPJEA><:9:;<=?@ABCDEFFGHIIJKLMMNNOOOOOOOOOOOOOOOOOOOOOOOOOOOOOOOOONNNDGJNQTX[_bdgjlpsw|~~~~~~~~{wqlf`XRMIEA?>>>?@ABCDEFFGHHIIJJKLMNNOOOOPPPPPPPPPPPPPPPPPPPPPPPPPPPOOOOOO<>ADHKNQTX[_aehlqv|~~~~~~~~{wrmgb]VQMIFDCBBCDEFGGGHIIJJJKKLMNOOOPPPPPPPPPPPPPPPPPPPQQQQQQQQQQPPPPPPP468;>BEHKNQTX[`ejov}~~~~~~~~{wsojea[WSOLJHGHHIJJJJJKLLLLLMNOOPPPPQQQQQQQQQQQQQQQQQQQQRRRRRRRQQQQQQQQ,.0369<?BEHKNRV[agnu|~~~~~~~~|yuqniea]XURPNMMMNNNMMNOOOOOOPQQQQQQQQQQQQQQQQQQQRRRRRRRRSSSSSSRRRRRRRQ&')+.1479<?BEIMRW^eltz~~~~~~~~~{xuqnjfb_[XUSSRRRRQQRRSSSSSSSSSSSRRRRRRRRRRRRRRRRSSSSSSSTTTTTSSSSSSRR###$'),/1469=@DINTZbjqvz~~~~~~~~}{xuqmjgda]ZYXXWWVVVVVWWWWWVVUTTTSSSSSSSSSSSSSSSSTTTTTTUUUUTTTTTTSSS######&(*-/258<@EJQW`gnty}~~~~~~~~}zwtpmjgdb`_^]][[ZZZZZ[[ZYXWVUUTTTTTTTTTTTTTTTTTUUUUUUVVVUUUUUUTTT########$&)+.148=BGNU^emsy~~~~~~~~~~{xurpmjgfdbaa``_^^^^^^]ZYXWWVVUUUUUTTTTTTTUUUUUVVVVVWWWVVVVVUUUU###########&(+.26:?ELT]enu|~~~~~~~~~~|ywtqnljhfedcba```___^]ZYXXWWVVVUUUUUUUUUUVVVVWWWWWWWWWWWWWVVVV############$&),048>ELU_hqy~~~~~~~~~~~|zwurpmkihfedcbaa``_^][ZYYXXWWWVVVVVVVVVVVWWWXXXXXXXXXXXXXWWWV##############%(+/38>ENWblv~~~~~~~~~~~~|zxuspnljhgfdcbba`__^][ZZYYXXWWWWWWWWWWWWXXXXYYYYYYYYYYYXXXXW###############%'+.39@HR]hs|~~~~~~~~~~~~|zxuspnljhgedcba`__^]][ZZYYYXXXXXXXXXXXXXYYYZZZZZZZZZZZYYYXX################%(+/5;CMXdpz~~~~~~~~~~~~~|ywurpmkigfedba`__^^]][[ZZYYYYYXXXXXXYYYYZZZ[[[[[[[[[ZZZYYY",1196.9,1765.4,[203.4,1198.5,228.3,1477.5,207.4,1515.6,219.8,1515.6,263.5,1519.1,148.5,1522.4,194.3,1526.0,209.4,1544.0,292.2,1542.2,179.0,1557.9,162.7,1564.7,163.3,1571.7,174.6,1564.7,190.8,1565.2,223.6,1564.7,231.3,1568.8,211.5,1571.7,205.0,1578.8,283.9,1567.6,312.6,1568.8,296.6,1581.5,317.0,1591.3,158.0,1586.5,163.9,1586.5,173.1,1583.6,232.5,1591.8,279.8,1591.8,254.3,1594.5,249.9,1596.0,213.3,1598.6,264.1,1598.6,287.5,1599.5,290.5,1600.5,196.1,1608.3,191.4,1613.0,210.9,1607.4,235.4,1610.7,277.1,1607.4,287.1,1614.8,161.0,1624.0,186.1,1621.3,222.4,1619.8,196.1,1630.2,205.0,1628.4,241.3,1628.4,265.9,1625.5,254.9,1635.5,258.5,1635.8,195.2,1642.9,178.4,1650.0,205.0,1650.0,228.3,1654.7,253.8,1649.7,262.6,1649.7,270.0,1650.0,276.5,1646.7,255.5,1657.4,304.9,1649.7,184.6,1665.4,194.6,1671.0,220.4,1668.0,239.0,1679.2,260.8,1674.5,266.2,1678.1,276.8,1676.0,344.8,1681.0,416.5,1681.3,191.4,1685.2,219.8,1694.0,225.4,1693.4,205.0,1699.9,239.0,1720.0,253.8,1716.5,259.1,1714.1,253.8,1723.0,259.7,1721.5,195.2,1734.8,155.3,1739.5,263.2,1734.8,296.3,1727.1,307.8,1727.1,316.4,1736.3,322.3,1734.8,161.3,1748.5,188.1,1761.8,202.9,1754.7,212.4,1755.3,271.5,1746.7,272.7,1752.0,259.1,1755.3,295.4,1744.7,295.4,1758.0,314.0,1744.1,322.3,1755.0,329.7,1759.4,335.6,1749.1,338.6,1755.6,342.4,1760.9,348.9,1753.5,348.9,1760.9,356.3,1760.0,363.7,1760.9,371.1,1752.0,374.0,1759.4,380.8,1748.5,382.9,1759.4,388.8,1748.5,391.7,1759.4,395.6,1760.3,403.4,1761.1,408.1,1758.5,415.1,1759.3,433.3,1760.3,439.8,1758.5,445.5,1759.8,461.9,1761.1,465.3,1744.7,467.1,1748.9,484.6,1761.1,502.5,1759.3,560.0,1751.0,556.3,1760.3,649.3,1761.1,682.8,1760.6,743.4,1761.1,760.4,1758.8,776.5,1760.1,798.1,1761.4]);
paint('cd',"IHGGFEDDCCBBBBBBBBBBCCCCCDEGKPUZ^`bcdeeeeddccbaa`_^[ZXWVUTSSSRRRRRRRRRRRSSSSSTTTTSSSSSRRRRRRQQQQQQQQHGFEDDCBAAA@@@@@@@AAAAABBCEHLQVZ_acdeeffeeddcbba`_^[ZYWVUTSSSRRRRRRRRRSSSSSTTTTTTTTSSSSSRRRRRQQQQQQQGFEDCBA@@???>>>>????@@@AACEHMRW[_bdeffffffeddcba`_^[ZYWVUTTSSSSRRRRSSSSSSSTTTTTTTTTTTSSSSRRRRRQQQQQQFEDCB@@?>>=========>>??@ACEINSX]`cefgggggffedcba`_^[ZYWVUTTSSSSSSSSSSSSSTTTTUUUUUUTTTTSSSSRRRRRQQQQQEDCA@?>=<<<;;;;;;;<<==>?@CEIOTY^adegghhhggfedcba`_^[ZYXVUUTSSSSSSSSSSSSTTTTUUUUUUUUUTTTSSSSRRRRQQQQQDCA@?=<<;:::9999:::;;<=>@CFJPUZ_befghiihhggfedcb`_^]ZYXWVUTTSSSSSSSSSSTTTTUUUUVVVUUUUTTTSSSRRRRQQQQQCB@?=<;:998888888899:;<>@CGLQW[`ceghiiiiihgfedcb`_^]ZYXWVUTTTSSSSSSSTTTTTUUUVVVVVVVUUUTTTSSSRRRRQQQQBA?><;988776666667789:<>ADHMSX]adfhijjjjihhgedcb`_^]ZYXWVUTTTSSSSSTTTTTTUUUVVVVVVVVVUUUTTSSSRRRRQQQQB@>=;:876655555555678:;>AEIOTY_begijkkkjjihgfdcba_^]ZYXWVUUTTTTTTTTTTTTUUUVVVWWWWWVVVUUUTTSSRRRRQQQQA?><:97654433333445679;>AEJPV[`dfijklllkjihgfecba_^]ZYXWVUUTTTTTTTTTTTUUUVVVWWWWWWWVVVUUTTSSRRRRQQQQA?=;986543322222234579;>BFLQW]aehjklmmllkjigfecba_^[ZYXWVUUTTTTTTTTTUUUUVVVWWWWWWWWVVVUUTTSSRRRRQQQQ@><:975432111111123468;?CHMSY_cfiklmnmmlkjihfedba_^[ZYXWVUUTTTTTTTTUUUUVVVWWWWXWWWWWVVUUTTSSSRRRQQQQ@><:865321000/00012468;?DINTZ`dhjlmnonnmlkihgedba_^[ZYXWVUUTTTTTTTUUUUVVVWWWWXXXXWWWVVUUTTSSSRRRQQQQ@=;9754210//...//01358;@DJPV[afikmoopoonmkjhgedba_^[ZYXWVUUTTTTTTTUUUVVVWWWWXXXXXWWWVVUUTTSSRRRRQQQQ?=;975320/...-..//1358<@EKQW^cgjmoppqponmljhgedba_^[ZYXWVUUUTTTTTUUUUVVVWWWXXXXXXWWWVVUUTTSSRRRRQQQQ?=;86421/.------./0258<AFLRY_dhlnpqqqqponljigedba_^[ZYXWVUUUTTTTTUUUVVVWWWWXXXXXXWWVVVUUTTSSRRRRRQQQ?=:86420/--,,,,,-.0258<AGMTZafjmoqrrrrqpnlkigfdba_^[ZYXWVUUUTTTTUUUUVVVWWWWXXXXXWWWVVUUTTTSSRRRRRQQQ?<:8531/.-,++++,-.0259=BHNU[bgknprssssrpomkihfdca_^[ZYXWVUUUTTTTUUUUVVVWWWWXXXXWWWVVVUUTTSSSRRRRRRRR><:7531/-,+****+,.0259>CIOV]chloqstttsrqomljhfdca_^[ZYXWVUUUTTTTUUUUVVVWWWWWWWWWWWVVUUTTTSSSRRRRRRRR><97420.,+*)))*+,-/26:>DJPW^dhlprtuuutsqpnljhfeca_^[ZYXWVUUUTTTUUUUUVVVWWWWWWWWWVVVUUUTTSSSSRRRRRRRR>;9642/-,*))(()*+-/26:?EKQX_dimpstuvuusrpnljhgeca_^[ZYXWVUUUTTTUUUUUVVVVWWWWWWWVVVUUUTTTSSSSSRRRRRRR=;9641/-+)(('((*+-036;@FLRY`ejnqsuvvvutrqomkigeca`^[ZYXWVUUUTTTUUUUUVVVVVVWVVVVVVUUUTTTSSSSSSSSSSSSS=;8631.,*)''''()+-037;AGMSZafkortvwwvutsqomkigeca_^[ZYXWVUUUTTTUUUUUUVVVVVVVVVVUUUTTTTSSSSSSSSSSSSSS=:8530.,*('&&'()+-037<BHNU[bgloruvwwwvtsqomkigeca_^[ZYXWVUUUTTTTUUUUUUVVVVVVVUUUUTTTTSSSSSSSSSSSTTTT=:8520-+)'&%%&')+-048=BIOV]chmpsuvwwwvtsqomkigeca_^[ZYXWVUUUTTTTTUUUUUUUUUUUUUUUTTTSSSSSSSSSSTTTTTTT=:752/-+(&%$$%')+-049>DJPW^dimpsuvwwwvtrqoljhfdca_^[ZYXWVUUUTTTTTTUUUUUUUUUUUTTTTTSSSSSSSSTTTTTTUUUU<:742/,*(&%$$%&(+-15:?EKRX_einqsuvwwvutrpnljhfdba_^[ZYXWVUUUTTTTTTTTTUUUUUTTTTTTTSSSSSSSTTTTTUUUUUUV<:741/,*'&$$$%&(+.16;@FMSY`ejnqsuvwvvusrpnkigedb`_][ZYXWVUUUTTTTTTTTTTTTTTTTTTTSSSSSSSSTTTTUUUVVVVVV<9741.,)'%$$$%&(+.27<AHNTZafjnqsuvvvutsqomkigecb`^][ZYXWVUUUTTTTTTTTTTTTTTTSSSSSSSSSSSTTTUUUVVVVWWWW<9741.+)'%$$$%&(+/37=CIOV[bgknqsuuvuusrpnljhfdca`^][ZXXWVUUTTTTTTSSSSSSSSSSSSSSSSSSSSTTTUUVVVWWWWXXX<9741.+)'%$$$%'),/38=DJPW]cgknqstuuutsqomkigedba_^]ZYXWWVUUTTTTSSSSSSSSSSSSSSSSSSSSSSTTUUVVWWWXXXXXX<9741.+)'&%$%%'),049>DKRX^chknqrttttsrpoljhfecb`_^[ZYXWWVUUTTTSSSSSSSSSRRRRRRRRRSSSSTTTUUVWWXXXYYYYY<9741.+)'&%%%&(*-15:?ELRY_dhknprsttssqpnligfdba`^][ZYXWWVUUTTTSSSSSRRRRRRRRRRRRRRSSSTTUUVWWXXYYYYYYY<:741.+)(&&&&')+/37<AFMTZ`dhlnprssssrpomkigecba_^][ZYXWVVUUTTTSSSRRRRRRRRRRRRRRRRSSSTTUVVWXXYYYZZZZZ<:741.,*(''&'(*-049>CIOU[aeilnpqrrrrqpnljhfdca`_^[ZYYXWVVUUTTSSSRRRRRRRRRRRRRRRRRSSTTUUVWWXXYYZZZZZZ<:741.,*)('((*,/26;@EKQW]bfiknopqqqqpomkihfdba`^][ZYXXWVVUUTTSSSRRRRRRQQQQQQQRRRRSSTTUVVWWXYYZZZZZZZ<:741/-+*)()*+.048=BHNTY_cfikmoppppponlkigedba_^][ZYXWWVVUUTTSSRRRRRQQQQQQQQQRRRRSSTTUVVWXXYYZZZZZZZ<:742/-+****+-/26:?EKPV[`dgikmnoopoonmkjhfeca`_][ZYXXWVVUUUTTSSRRRRQQQQQQQQQQRRRRSSTUUVVWXXYYZZZZZZZ<:7420.,+++,-/148<AGMSX^begiklmnoonnmkjigfdba_^][ZYXWWVVUUTTTSSRRRQQQQQQQQQQQRRRSSSTUUVWWXXYYZZZZZZZ<:7520.-,,,-.136:>CIOUZ`cfhiklmmnnmlkjigfecb`^][ZYXWWVVUUUTTSSRRRQQQQQQQQQQQQRRRSSTTUUVWWXXYYZZZZZZZ<:7530/----.0258<@EKRX]adghjkllmmmlkjigfecb`_][ZYXWVVUUUUTTTSSRRRQQQQQQQQQQQQRRRSSTTUUVWWXXYYYZZZZZZ<:8531/....0147:>CHMTZ_cfhijkkllllkjigfdcba_][ZXXWVUUTTTTTTSSSRRQQQQQQQQQQQQQRRRSSTTUUVVWWXXYYYYYYYY<:85310/.//1359<@EJPV[adgijkkkllkkjigfdba`_][YXWVUUTTSSSSSSSSRRRQQQQQQQQQQQQQRRRSSTTUUVVWWXXXYYYYYYY<:864210/01247:>BGLRX^behjkklllkkjhgedb`_^[ZYWVUTTSSRRRRSSSSRRRRQQQQQQQQQQQQQRRRSSSTTUUVVWWXXXXXXXXX<:864211012358;?DINTY_dgiklllllkjigecb`^[ZYXWVTTSRRQQQQQRRRRRRRRQQQQQQQQQQQQQRRRSSSTTUUVVVWWWWXXXWWW;986432222357:=AFKQV]aehklmmmmlkihfdb_]ZYXWVUTSRQQPPPPPPQRRRRRRQQQQQQQQQQQQQQRRRRSSTTTUUVVVVWWWWWWWV;986543333468;?CHNSY_cgjlmnnnmljigdb_]ZXVUUTSRQPPPOOOOOPPQQRRRRQQQQQQQQQQQQQQRRRRSSSTTTUUUVVVVVVVVVV;:8765444568:=AEKPV[afilnoooonljhec`]ZWUTSSRRQPOOOONNNNOPQQQRRQQQQQQQQQQQQQQQQRRRRSSSTTTUUUUUUUUUUUU;:876655668:<?CHMSY_dhknpqqppnljgda^ZWUSRQQQQPONNOONNNNOPQQQQQQQQQQQQQQQQQQQQQRRRRRSSSTTTTTUUUUUUTTT;:98776778:<?BFKQV]bgknpqrrrpoljfc_[WTRQPPPQPPONOOPONNOPPQQQQQQQQQQQPPPPQQQQQQQRRRRRSSSSSTTTTTTTTTSS;::988889;=?BEIOTZ`ejmprsttsqomiea[XTQPOOOPQQPOOPPQPPOPPQQQQQQQQQQPPPPPPPPQQQQQQQRRRRRSSSSSSSSSSSSSS<;::999:;=@BFINSY_dimpstuvutrpmie_YTQOOOOOPQQQPPQQQQQQQQQQQQQQQQPPPPPPPPPPPPQQQQQQRRRRRRRRRSSSRRRRRR=<;;:;;<>@CFJNSX^dhmpsuwwwvuspmid_WRONNOPPQQQQQQRRRRRRRQQQQQQPPPPPPPPPPPPPPPPPQQQQQQQQRRRRRRRRRRRRQQ==<<<<=>@CFJOSX^dhmqtvxyyxwuspmhd^WQNNOOPQQQQQQRRRRRRRRQQQQPPPPPPPPPPPPPPPPPPPPPQQQQQQQQQQQQQQQQQQQQ>>===>?ACFJNSY_dinquwyz{zyxvsplgb[UOLMOOPPQQPPPQQQQQQRQQQPPPPPPOOOOOOOOOOOPPPPPPPPPPPQQQQQQQQQPPPPPP?>>>?@ACFIMSX_ejosvy{|}||zxurojf`YSNKKNNNOONNNOOOOOPPPPPPPOOOOOOOOOOOOOOOOOOOPPPPPPPPPPPPPPPPPPPPPPP@???@BDFIMRW_ekptxz}~~~~|zxuqmhc[UOLIIKLLLKKLLLLMMMNNOOOOOOOOOOOOOOOOOOOOOOOOOOOOOOOPPPOOOOOOOOOOOOO@@@ABDFIMQV]dkrvz|~~~~~~}zwsojd^VPJGEFGHHHHHHIIJJJKLLMMNNNNNNNNNNNNNNNNNOOOOOOOOOOOOOOOOOOOOOOOOOOOOAAABCFILPUZbiqw{~~~~~~~~|yuqlf`XQJEBAABCDDDDEFFGGHHJKKLLMMMMNNNNNNNNNNNNNNNNOOOOOOOOOOONNNNNNNNNNNNNAABCEGKOSY`fnu{~~~~~~~~~{wsnhbZSKE@=<=>?@@@ABCDDEFGHIJKKLLLMMMMMNNNNNNNNNNNNNNNNNNNNNNNNNNNNNNNNNNNN@ABDFJNRW^dkrx~~~~~~~~~~zupjd]UMF@<:99:;<==>?@ABCDEFGHIJKKLLMMMMMMMNNNNNNNNNNNNNNNNNNNNNMMMMMMMMMMMNABDFIMQV]biou{~~~~~~~~~}xrlf_VOGA<96667899:;=>?@ABCEFGHIJKKLLMMMMMMMMMNNNNNNNNNNNNMMMMMMMMMMMMMMMMMMACEHLQV[bgmsy~~~~~~~~~~{uohaXPIB=95433456789:<=>?ABDEFHIJJKLLLMMMMMMMMMMMMMMMMMMMMMMMMMMMLLLLLLLLMMMBDGKPU[aglrw|~~~~~~~~~~xrkcZRKD>9531111234678:;<>?ACDFGHIJKKLLLMMMMMMMMMMMMMMMMMMMMMMLLLLLLLLLLLLLLLCFJOTZaglqv{~~~~~~~~~~|unf^UME?:620////01235689;=>@BCEFHIJKKLLLLMMMMMMMMMMMMMMMMMMMLLLLLLLLKKKKLLLLLFINSY`gmrvz~~~~~~~~~~~yrjaXOG@;630.----./023568:;=?ABDFGHJJKKLLLMMMMMMMMMMMMMMMMLLLLLLLLKKKKKKKKKKLLHMRW_elrw{~~~~~~~~~~~|ume[RJB<730.,,++,,-/023578:<>@BDEGHIJKKLLLLMMMMMMMMMMMMMLLLLLLLLKKKKKKKKKKKKKKLQV]cjqw{~~~~~~~~~~~}xph_UME>841.,+****+,-/024579;=?ACEFHIJKKLLLLLMMMMMMMMMMLLLLLLLLKKKKKKKJJJJKKKKKQU[bhouz~~~~~~~~~~~~yskbYPHA;62.,*)((())*,-/13468;=?ACDFHIJJKKLLLLLMMMMMMMLLLLLLLLLKKKKKKJJJJJJJJKKKUZaflrx}~~~~~~~~~~~zume]SKC=830-+)(''''()+,.02468:<>@BDFGHIJKKLLLLLLLLMMLLLLLLLLLKKKKKKKJJJJJJJJJJKKZ`ekqv{~~~~~~~~~~~|vph`VMF?:62.,)(&&%&&'(*+-/13579;>@BDEGHIJKKLLLLLLLLLLLLLLLLLLKKKKKKKJJJJJJJJJJJJKaejoty~~~~~~~~~~~~yrkcYPHB<841.+)'%%$%%&')*,.02469;=?ACEGHIJKKKLLLLLLLLLLLLLLLLLKKKKKKJJJJJJJJJJJJJKfjnsx|~~~~~~~~~~~{ung^TLD>:630-*(&%$$$$%'(*,.02468:=?ACEGHIJKKKLLLLLLLLLLLLLLLLKKKKKKKJJJJJJJJJJJJJJkosw{~~~~~~~~~~~}xrjbXOGA<8530-*'%$###$%&()+-/1368:=?ACEGHIJKKKLLLLLLLLLLLLLLLLKKKKKKKJJJJJJJJJJJJJJosvz~~~~~~~~~~~~zunf^SKC>96420-*'%#####$&')+-/1358:<?ACEGHIJKKKLLLLLLLLLLLLLLLLKKKKKKKJJJJJJJJJJJJJKsvy|~~~~~~~~~~~}xrkcXOG@;7532/,)'%#####$&')+-/1358:<?ACEGHIJKKKLLLLLLLLLLLLLLLLKKKKKKKKJJJJJJJJJJJJKux{~~~~~~~~~~~~zuoh_UKC=96420.,)'%#####$&')+-/1358:<?ACEGHIJKKLLLLLLLLMMLLLLLLLLKKKKKKKKJJJJJJJJJJKKwz}~~~~~~~~~~~{wrle[QHA;7421/-+)'%$###$%&')+-/1358:=?ACEGHJJKKLLLLLLMMMMMMLLLLLLLLKKKKKKKKJJJJJJKKKKy{~~~~~~~~~~~|ytoibXOF?:6310.-+)'&$$#$$%&(*+-/1368:=?ADFGIJKKLLLLLMMMMMMMMMLLLLLLLLKKKKKKKKKKKKKKKKKz|~~~~~~~~~~|yvqlf_ULD=8531/.-+)(&%%$%%&')*,.02468;=@BDFHIJKKLLLMMMMMMMMMMMMMLLLLLLLLKKKKKKKKKKKKKKLz|~~~~~~~~~|yvsojd[SJC=8521/.-+*)'&&&&&'()+-.02479;>@BDFHIJKLLLMMMMMMMMMMMMMMMMLLLLLLLLKKKKKKKKKLLLLz|~~~~~~~}|yvsplgaYQIB<85210/-,+*)(''''()*,-/1357:<>@CEGHJKLLLMMMMMMMMMMMMMMMMMMMLLLLLLLLLLLLLLLLLLLz|}~~~~}|{ywtpmid_WOGA<85310/.-,+*))(())*+-.02468:<?ACEGIJKLLMMMMMMMMNNNNMMMMMMMMMMLLLLLLLLLLLLLLLLMz{||}||{zywtqnjfb[UNF@<864210/.-,++****+,-.013579;=@BDFHIKLLMMMMMNNNNNNNNNNNNMMMMMMMMLLLLLLLLLLMMMMMxyz{{zzyxvtrolhe`ZTMFA<96532210/.-,,,,,,-./12468:<>@CEGHJKLMMMMNNNNNNNNNNNNNNNNMMMMMMMMMMMMMMMMMMMMMwxxyyxxwvtrpmjgc_YSLFA=:865432100/..--../0124679;=?ACEGIJKLMMNNNNNNNNNNNNNNNNNNNNMMMMMMMMMMMMMMMMMMMuvvwwvvusrpnkheb^XRLFB>;98665432110////00124579;=>@BDFHIKLMMNNNNNNNNNNNNNNNNNNNNNNNNMMMMMMMMMMMMNNNNstttttsrqpnligda]WRLGB?<;987765433211112234578:<>@BCEGIJKLMMNNNNNNNNNNNNNNNNNNNNNNNNNNNNNNNNNNNNNNNNqrrrrrqponljhfc`[WQLGC@><;:998765543333345678:<=?ACEFHIKLMMNNNNNNNNNOOOOOOOOOONNNNNNNNNNNNNNNNNNNNNNoopppoonmljhfdb_[VQLHDA?>=<;;:98876555556789:<=?ABDFGIJKLMNNNNNNOOOOOOOOOOOOOOOOONNNNNNNNNNNNNNNNNNOmmnnnmmlkjhfeca^ZVQLHEBA??>>=<;;:9877777899;<=?@BDEGHIKLMMNNNOOOOOOOOOOOOOOOOOOOOOOONNNNNNNNNNNOOOOOkkkkkkjjihfeca_]ZVQLHFDBA@@??>>=<;:99999::;<>?@BCEFHIJKLMNNNOOOOOOOOOOOOOOOOOOOOOOOOOOOOOOOOOOOOOOOOiiiiiihhgfecb`^]YVQLIFECBBAAA@??>=<<;;;;<<=>?ABCEFGIJKLMMNNOOOOOOOOOOOOOOOOOOOOOOOOOOOOOOOOOOOOOOOOOggggggffedcb`_^[XUQMJGFDDCCCBBA@@?>>====>>?@ABCEFGHJKLLMNNOOOOOOOOOOOOOOOOOOOOOOOOOOOOOOOOOOOOOOOOOOeeeeeeddcba`_^]ZXTQMJHGFEEDDDDCBBA@@???@@@ABCDEFGHIJKLMNNOOOOOOOOOOOOOOOOOOOOOOOOOOOOOOOOOOOOOOOOOOOccccccbba``_^][YWTQNKIGGFFFFEEEDCCBBAAAABBCDDEFGHIJKLMMNNOOOOOOOOOOOOOOOPPPPPPPPOOOOOOOOOOOOOOOOOPPPaaaaaa``__^]][ZYWTQNKIHGGGGGGGFFEDDDCCCCDDEEFGHHIJKLMMNNOOOPPPPPPOOOPPPPPPPPPPPPPPPPPPOOOOOOPPPPPPPP```___^^^]][ZZYXWTQNKJIHHHHHHHHGGFFEEEEEFFFGHHIJJKLLMNNOOOPPPPPPPPPPPPPPPPPPPPPPPPPPPPPPPPPPPPPPPPPP^^^^]]][[[ZZYYXXWTQMKJIIIIIIIIIIHHGGGGGGGHHHIJJKKLMMNNOOOPPPPPPPPPPPPPPPPPPPPPPPPPPPPPPPPPPPPPPPPPPP]]][[[ZZZYYYXXXXWTPMKJJJJJJJKJJJIIIIHHHIIIJJJKKLLMMNNOOOPPPPPPPPPPPPPPPPPPPPPPPPPPPPPPPPPPPPPPPPPPPP",1794.4,2362.9,[393.2,1818.0,387.0,1841.7,368.7,1867.4,321.7,1878.3,342.1,1884.2,328.2,1906.4,355.4,1903.2,355.4,1916.7,357.8,1920.6,364.3,1923.3,346.2,1928.6,390.3,1923.3,393.2,1930.3,384.4,1937.7,362.2,1944.2,350.4,1953.9,331.8,1963.4,335.0,1973.4,338.9,1976.7,347.1,1971.1,388.2,1982.9,390.0,1986.7,370.2,1995.0,367.2,1998.2,374.9,2011.2,329.1,2017.7,294.8,2002.4,202.9,1999.1,212.1,2031.0,259.4,2030.7,272.7,2035.5,319.6,2042.3,321.7,2049.7,320.2,2057.9,270.9,2060.0,195.2,2065.0,161.3,2078.9,155.3,2084.5,388.2,2070.9,253.5,2097.8,263.8,2105.1,316.1,2099.2,322.3,2106.0,332.9,2097.2,336.5,2105.1,380.2,2120.2,205.0,2128.2,261.4,2134.4,295.1,2138.0,224.8,2146.5,231.3,2142.4,239.0,2142.7,241.3,2153.0,266.2,2144.7,258.8,2150.7,258.2,2155.4,314.0,2149.5,296.3,2163.7,207.6,2168.1,211.8,2174.3,195.2,2177.2,195.2,2183.2,260.8,2174.3,263.2,2177.5,270.3,2182.0,277.1,2181.4,277.1,2190.8,161.0,2189.7,164.5,2198.5,219.8,2187.6,191.4,2192.9,204.1,2197.6,205.0,2203.8,211.8,2203.8,222.1,2199.4,253.2,2198.5,265.6,2200.3,283.9,2205.0,304.9,2194.4,334.4,2186.1,173.1,2209.5,220.4,2212.7,228.6,2210.3,255.2,2210.0,184.3,2220.4,191.4,2218.3,196.7,2219.5,228.3,2220.4,239.6,2223.3,249.9,2220.7,254.3,2220.7,264.1,2221.0,286.3,2222.8,289.8,2224.2,307.8,2221.3,213.0,2226.2,219.8,2228.9,174.6,2231.3,194.1,2234.8,232.5,2235.7,235.1,2243.7,163.3,2243.4,178.4,2242.5,186.1,2242.5,158.3,2250.5,148.5,2255.5,179.0,2253.4,162.7,2262.6,205.0,2256.7,210.0,2254.9,252.9,2244.6,263.5,2256.1,254.6,2268.5,257.6,2296.6,204.1,2359.2,279.8,2236.3,292.2,2232.1,296.6,2239.8,317.0,2233.6,312.6,2241.9,344.8,2248.1,461.8,1797.5,484.3,1806.7,402.8,1811.9,436.0,1875.5,445.2,1878.3,556.5,1869.4,439.1,1981.2,408.0,1991.7,502.4,1995.1,433.0,2026.4,559.6,2020.9,466.7,2069.1,682.7,1865.2,649.5,1878.0,743.5,1947.3,776.5,1991.8,760.3,2012.0,798.4,2025.9,414.8,2150.0,465.2,2156.1,416.7,2207.1]);
paintBar();

</script>
</body></html>
